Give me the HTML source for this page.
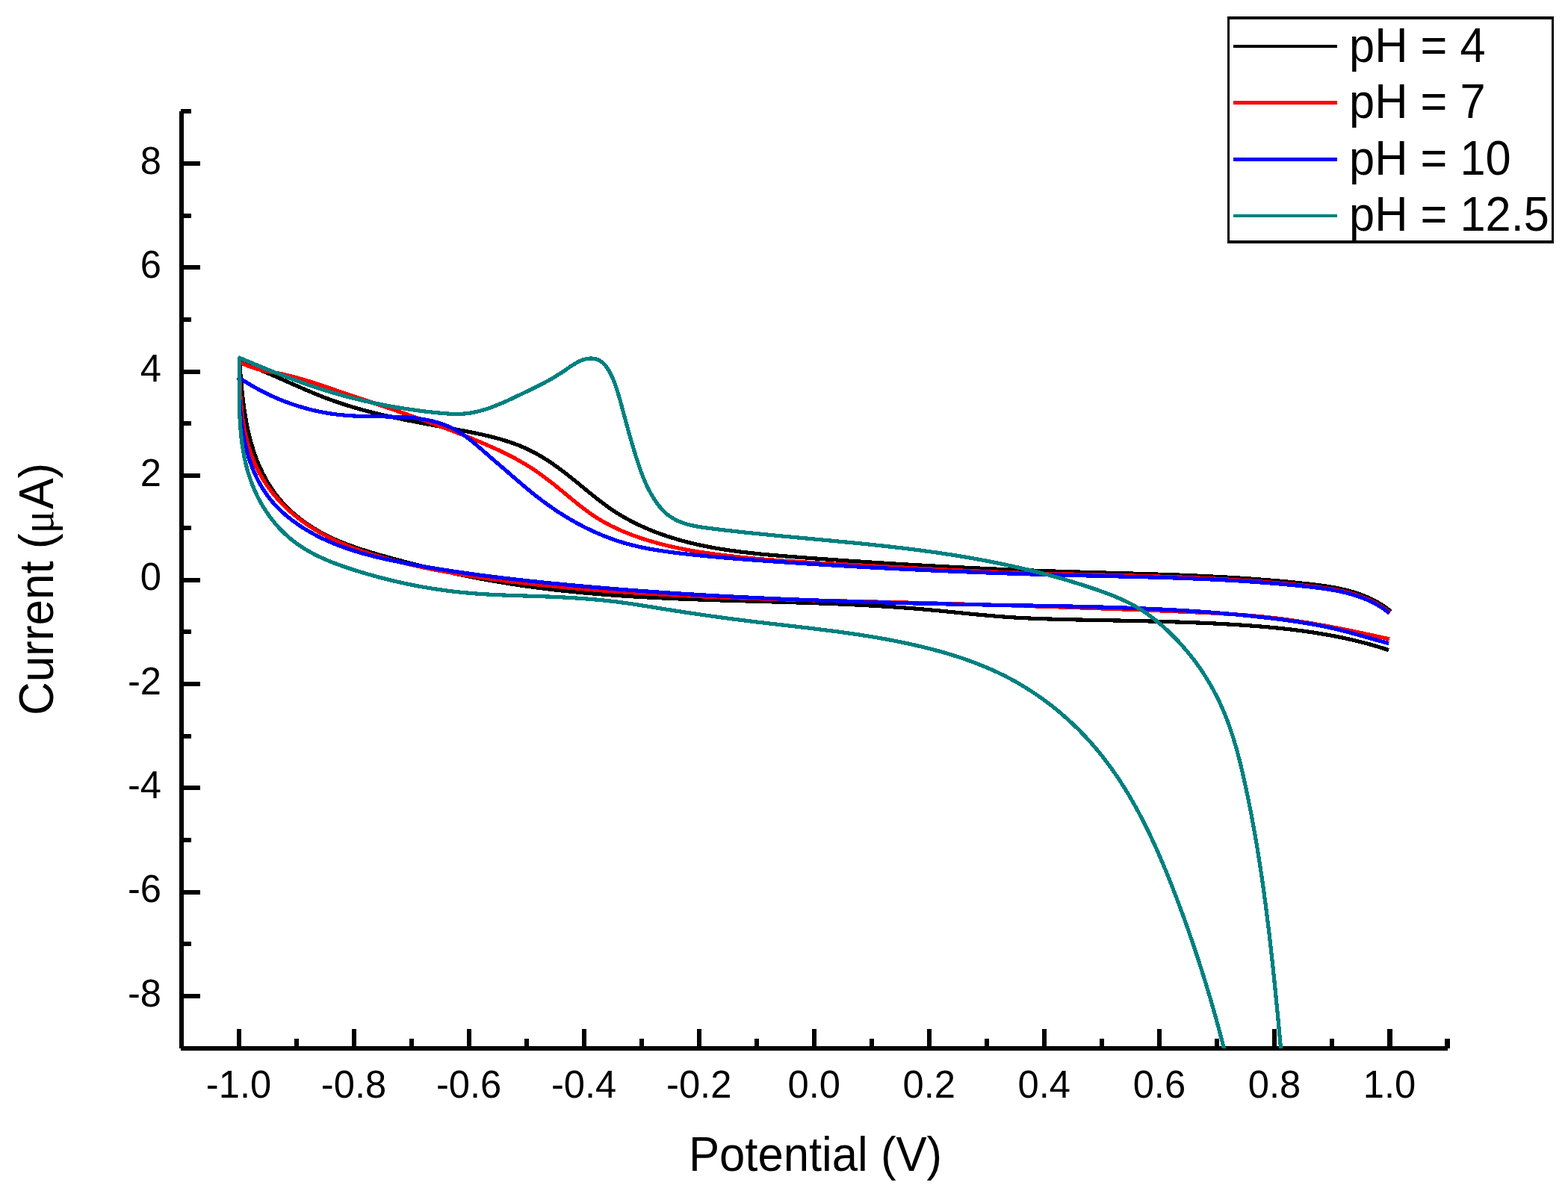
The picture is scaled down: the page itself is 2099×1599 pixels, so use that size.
<!DOCTYPE html>
<html lang="en"><head><meta charset="utf-8"><title>Cyclic voltammogram</title>
<style>
html,body{margin:0;padding:0;background:#fff;}
body{width:2099px;height:1599px;overflow:hidden;}
svg{display:block;}
text{font-family:"Liberation Sans",sans-serif;fill:#000;}
.tick{font-size:52px;}
.ttl{font-size:62px;}
.leg{font-size:62px;}
.ax{fill:#000;shape-rendering:crispEdges;}
.cv{fill:none;stroke-linejoin:miter;stroke-miterlimit:1.5;stroke-linecap:butt;shape-rendering:crispEdges;}
</style></head><body>
<svg width="2099" height="1599" viewBox="0 0 2099 1599">
<rect width="2099" height="1599" fill="#fff"/>
<defs><clipPath id="plot"><rect x="240" y="146" width="1700" height="1258"/></clipPath></defs>
<g><rect class="ax" x="240" y="149" width="6" height="1255"/><rect class="ax" x="242" y="1401" width="1696" height="6"/><rect class="ax" x="242" y="146" width="14" height="6"/><rect class="ax" x="317" y="1378" width="6" height="24"/><rect class="ax" x="394" y="1391" width="6" height="12"/><rect class="ax" x="471" y="1378" width="6" height="24"/><rect class="ax" x="548" y="1391" width="6" height="12"/><rect class="ax" x="625" y="1378" width="6" height="24"/><rect class="ax" x="702" y="1391" width="6" height="12"/><rect class="ax" x="779" y="1378" width="6" height="24"/><rect class="ax" x="856" y="1391" width="6" height="12"/><rect class="ax" x="933" y="1378" width="6" height="24"/><rect class="ax" x="1010" y="1391" width="6" height="12"/><rect class="ax" x="1087" y="1378" width="6" height="24"/><rect class="ax" x="1164" y="1391" width="6" height="12"/><rect class="ax" x="1241" y="1378" width="6" height="24"/><rect class="ax" x="1318" y="1391" width="6" height="12"/><rect class="ax" x="1395" y="1378" width="6" height="24"/><rect class="ax" x="1472" y="1391" width="6" height="12"/><rect class="ax" x="1549" y="1378" width="6" height="24"/><rect class="ax" x="1626" y="1391" width="6" height="12"/><rect class="ax" x="1703" y="1378" width="6" height="24"/><rect class="ax" x="1780" y="1391" width="6" height="12"/><rect class="ax" x="1857" y="1378" width="7" height="24"/><rect class="ax" x="1934" y="1391" width="7" height="13"/><rect class="ax" x="245" y="1331" width="23" height="6"/><rect class="ax" x="245" y="1261" width="11" height="6"/><rect class="ax" x="245" y="1192" width="23" height="6"/><rect class="ax" x="245" y="1122" width="11" height="6"/><rect class="ax" x="245" y="1052" width="23" height="6"/><rect class="ax" x="245" y="983" width="11" height="6"/><rect class="ax" x="245" y="913" width="23" height="6"/><rect class="ax" x="245" y="843" width="11" height="6"/><rect class="ax" x="245" y="774" width="23" height="6"/><rect class="ax" x="245" y="704" width="11" height="6"/><rect class="ax" x="245" y="634" width="23" height="6"/><rect class="ax" x="245" y="564" width="11" height="6"/><rect class="ax" x="245" y="495" width="23" height="6"/><rect class="ax" x="245" y="425" width="11" height="6"/><rect class="ax" x="245" y="355" width="23" height="6"/><rect class="ax" x="245" y="286" width="11" height="6"/><rect class="ax" x="245" y="216" width="23" height="6"/></g>
<g><text class="tick" transform="translate(319.5 1470) scale(0.975 1)" text-anchor="middle">-1.0</text><text class="tick" transform="translate(473.5 1470) scale(0.975 1)" text-anchor="middle">-0.8</text><text class="tick" transform="translate(627.6 1470) scale(0.975 1)" text-anchor="middle">-0.6</text><text class="tick" transform="translate(781.6 1470) scale(0.975 1)" text-anchor="middle">-0.4</text><text class="tick" transform="translate(935.7 1470) scale(0.975 1)" text-anchor="middle">-0.2</text><text class="tick" transform="translate(1089.8 1470) scale(0.975 1)" text-anchor="middle">0.0</text><text class="tick" transform="translate(1243.8 1470) scale(0.975 1)" text-anchor="middle">0.2</text><text class="tick" transform="translate(1397.8 1470) scale(0.975 1)" text-anchor="middle">0.4</text><text class="tick" transform="translate(1551.9 1470) scale(0.975 1)" text-anchor="middle">0.6</text><text class="tick" transform="translate(1706.0 1470) scale(0.975 1)" text-anchor="middle">0.8</text><text class="tick" transform="translate(1860.0 1470) scale(0.975 1)" text-anchor="middle">1.0</text><text class="tick" transform="translate(216 1347.7) scale(0.975 1)" text-anchor="end">-8</text><text class="tick" transform="translate(216 1208.3) scale(0.975 1)" text-anchor="end">-6</text><text class="tick" transform="translate(216 1069.0) scale(0.975 1)" text-anchor="end">-4</text><text class="tick" transform="translate(216 929.6) scale(0.975 1)" text-anchor="end">-2</text><text class="tick" transform="translate(216 790.2) scale(0.975 1)" text-anchor="end">0</text><text class="tick" transform="translate(216 650.8) scale(0.975 1)" text-anchor="end">2</text><text class="tick" transform="translate(216 511.4) scale(0.975 1)" text-anchor="end">4</text><text class="tick" transform="translate(216 372.1) scale(0.975 1)" text-anchor="end">6</text><text class="tick" transform="translate(216 232.7) scale(0.975 1)" text-anchor="end">8</text></g>
<text class="ttl" transform="translate(1091.5 1568) scale(0.994 1.04)" text-anchor="middle">Potential (V)</text>
<text class="ttl" transform="translate(71 788.9) rotate(-90) scale(1 1.04)" text-anchor="middle">Current<tspan dx="-1"> (</tspan><tspan font-family="'Liberation Serif',serif" font-size="58px">μ</tspan><tspan dx="1.5">A)</tspan></text>
<g clip-path="url(#plot)"><path class="cv" stroke="#000000" stroke-width="5.2" d="M1861.9 818.9C1860.80 818.03 1857.56 815.43 1855.34 813.83C1853.13 812.24 1850.88 810.73 1848.60 809.30C1846.32 807.87 1844.01 806.53 1841.67 805.25C1839.34 803.97 1836.97 802.78 1834.58 801.64C1832.19 800.51 1829.77 799.45 1827.33 798.45C1824.90 797.44 1822.43 796.51 1819.95 795.62C1817.47 794.74 1814.96 793.92 1812.44 793.15C1809.92 792.38 1807.37 791.66 1804.81 790.99C1802.26 790.31 1799.68 789.69 1797.09 789.10C1794.50 788.51 1791.90 787.97 1789.29 787.46C1786.67 786.95 1784.04 786.48 1781.41 786.03C1778.77 785.58 1776.12 785.17 1773.47 784.78C1770.82 784.39 1768.16 784.02 1765.49 783.67C1762.83 783.32 1760.15 783.00 1757.48 782.68C1754.81 782.36 1752.13 782.06 1749.45 781.77C1746.77 781.47 1744.10 781.18 1741.42 780.90C1738.74 780.62 1736.06 780.35 1733.38 780.08C1730.71 779.81 1728.03 779.55 1725.35 779.29C1722.67 779.03 1719.99 778.78 1717.31 778.54C1714.63 778.29 1711.95 778.06 1709.28 777.82C1706.60 777.59 1703.92 777.36 1701.24 777.14C1698.56 776.92 1695.88 776.70 1693.20 776.49C1690.52 776.28 1687.84 776.08 1685.16 775.87C1682.48 775.67 1679.80 775.48 1677.12 775.29C1674.44 775.10 1671.76 774.91 1669.08 774.73C1666.40 774.55 1663.72 774.37 1661.04 774.20C1658.36 774.03 1655.68 773.86 1653.00 773.70C1650.32 773.54 1647.64 773.38 1644.96 773.22C1642.28 773.07 1639.60 772.92 1636.92 772.77C1634.24 772.62 1631.56 772.48 1628.88 772.34C1626.20 772.20 1623.52 772.06 1620.84 771.93C1618.16 771.80 1615.47 771.67 1612.79 771.55C1610.11 771.42 1607.43 771.30 1604.75 771.18C1602.07 771.06 1599.39 770.94 1596.71 770.83C1594.03 770.72 1591.35 770.61 1588.67 770.50C1585.99 770.39 1583.31 770.28 1580.63 770.18C1577.95 770.08 1575.27 769.98 1572.59 769.88C1569.91 769.78 1567.23 769.69 1564.55 769.59C1561.87 769.50 1559.19 769.41 1556.51 769.32C1553.83 769.23 1551.15 769.14 1548.47 769.05C1545.79 768.97 1543.11 768.88 1540.43 768.80C1537.75 768.71 1535.07 768.63 1532.39 768.55C1529.71 768.47 1527.03 768.39 1524.35 768.31C1521.67 768.23 1519.00 768.16 1516.32 768.08C1513.64 768.00 1510.96 767.93 1508.28 767.85C1505.60 767.78 1502.92 767.70 1500.25 767.63C1497.57 767.55 1494.89 767.48 1492.21 767.41C1489.53 767.33 1486.86 767.26 1484.18 767.19C1481.50 767.11 1478.82 767.04 1476.15 766.97C1473.47 766.89 1470.79 766.82 1468.12 766.75C1465.44 766.67 1462.76 766.60 1460.09 766.52C1457.41 766.45 1454.73 766.37 1452.06 766.30C1449.38 766.22 1446.71 766.14 1444.03 766.06C1441.35 765.99 1438.68 765.91 1436.00 765.83C1433.33 765.75 1430.65 765.66 1427.98 765.58C1425.31 765.50 1422.63 765.41 1419.96 765.33C1417.28 765.24 1414.61 765.15 1411.94 765.07C1409.26 764.98 1406.59 764.89 1403.92 764.80C1401.24 764.70 1398.57 764.61 1395.90 764.52C1393.22 764.42 1390.55 764.33 1387.88 764.23C1385.21 764.13 1382.53 764.04 1379.86 763.94C1377.19 763.84 1374.52 763.74 1371.85 763.63C1369.17 763.53 1366.50 763.43 1363.83 763.32C1361.16 763.22 1358.49 763.11 1355.82 763.00C1353.14 762.89 1350.47 762.78 1347.80 762.67C1345.13 762.56 1342.46 762.45 1339.79 762.34C1337.12 762.22 1334.45 762.11 1331.78 761.99C1329.10 761.88 1326.43 761.76 1323.76 761.64C1321.09 761.52 1318.42 761.40 1315.75 761.28C1313.08 761.16 1310.41 761.04 1307.74 760.91C1305.07 760.79 1302.40 760.66 1299.73 760.53C1297.05 760.41 1294.38 760.28 1291.71 760.15C1289.04 760.02 1286.37 759.89 1283.70 759.76C1281.03 759.62 1278.36 759.49 1275.69 759.35C1273.02 759.22 1270.34 759.08 1267.67 758.94C1265.00 758.81 1262.33 758.67 1259.66 758.53C1256.99 758.39 1254.32 758.24 1251.64 758.10C1248.97 757.96 1246.30 757.81 1243.63 757.67C1240.96 757.52 1238.28 757.37 1235.61 757.22C1232.94 757.08 1230.27 756.93 1227.59 756.77C1224.92 756.62 1222.25 756.47 1219.58 756.32C1216.90 756.16 1214.23 756.01 1211.56 755.85C1208.88 755.69 1206.21 755.54 1203.54 755.38C1200.86 755.22 1198.19 755.06 1195.51 754.89C1192.84 754.73 1190.16 754.57 1187.49 754.40C1184.82 754.24 1182.14 754.07 1179.46 753.91C1176.79 753.74 1174.11 753.57 1171.44 753.40C1168.76 753.23 1166.09 753.06 1163.41 752.89C1160.73 752.71 1158.06 752.54 1155.38 752.36C1152.70 752.19 1150.02 752.01 1147.35 751.83C1144.67 751.66 1141.99 751.48 1139.31 751.30C1136.63 751.12 1133.95 750.93 1131.27 750.75C1128.60 750.57 1125.92 750.38 1123.24 750.20C1120.56 750.01 1117.87 749.82 1115.19 749.63C1112.51 749.45 1109.83 749.26 1107.15 749.07C1104.47 748.87 1101.79 748.68 1099.10 748.49C1096.42 748.29 1093.74 748.10 1091.05 747.90C1088.37 747.71 1085.69 747.51 1083.00 747.31C1080.32 747.11 1077.63 746.91 1074.95 746.71C1072.26 746.51 1069.58 746.31 1066.89 746.10C1064.20 745.90 1061.51 745.69 1058.83 745.48C1056.14 745.27 1053.45 745.07 1050.77 744.85C1048.08 744.64 1045.39 744.42 1042.71 744.20C1040.02 743.97 1037.33 743.75 1034.65 743.51C1031.96 743.28 1029.28 743.04 1026.60 742.79C1023.92 742.55 1021.24 742.29 1018.56 742.03C1015.88 741.77 1013.20 741.50 1010.53 741.21C1007.85 740.93 1005.18 740.64 1002.51 740.34C999.84 740.04 997.17 739.73 994.50 739.41C991.84 739.08 989.18 738.75 986.52 738.40C983.86 738.05 981.20 737.68 978.55 737.31C975.90 736.93 973.25 736.54 970.61 736.13C967.96 735.72 965.32 735.30 962.69 734.86C960.05 734.42 957.42 733.97 954.79 733.49C952.17 733.02 949.54 732.53 946.93 732.01C944.31 731.50 941.70 730.97 939.09 730.42C936.49 729.87 933.89 729.30 931.29 728.70C928.70 728.11 926.11 727.50 923.53 726.86C920.95 726.22 918.37 725.56 915.80 724.88C913.24 724.19 910.67 723.48 908.12 722.75C905.56 722.02 903.02 721.26 900.48 720.47C897.94 719.69 895.40 718.88 892.88 718.04C890.35 717.20 887.84 716.33 885.33 715.44C882.82 714.54 880.32 713.62 877.82 712.66C875.33 711.71 872.85 710.72 870.38 709.71C867.90 708.69 865.44 707.65 862.99 706.57C860.54 705.49 858.10 704.38 855.68 703.24C853.25 702.10 850.84 700.93 848.45 699.72C846.06 698.51 843.68 697.27 841.32 695.99C838.96 694.72 836.62 693.41 834.30 692.06C831.98 690.72 829.68 689.34 827.40 687.92C825.12 686.51 822.87 685.06 820.64 683.57C818.40 682.08 816.20 680.55 814.01 679.00C811.82 677.45 809.65 675.86 807.50 674.25C805.34 672.65 803.21 671.01 801.09 669.36C798.96 667.71 796.85 666.03 794.75 664.35C792.64 662.67 790.55 660.97 788.46 659.26C786.37 657.56 784.29 655.84 782.21 654.13C780.13 652.41 778.05 650.69 775.97 648.98C773.88 647.27 771.80 645.56 769.71 643.86C767.62 642.16 765.52 640.47 763.42 638.79C761.31 637.12 759.20 635.45 757.07 633.81C754.95 632.17 752.81 630.55 750.66 628.95C748.51 627.35 746.35 625.77 744.18 624.22C742.00 622.67 739.81 621.14 737.61 619.65C735.40 618.16 733.18 616.70 730.94 615.27C728.70 613.85 726.44 612.46 724.16 611.10C721.89 609.75 719.59 608.44 717.27 607.17C714.96 605.90 712.62 604.67 710.26 603.50C707.89 602.32 705.51 601.19 703.10 600.11C700.69 599.02 698.26 597.99 695.81 597.00C693.36 596.01 690.89 595.06 688.40 594.15C685.91 593.24 683.40 592.38 680.87 591.54C678.35 590.71 675.81 589.92 673.25 589.15C670.70 588.39 668.12 587.66 665.54 586.95C662.96 586.25 660.36 585.57 657.76 584.92C655.15 584.27 652.54 583.65 649.91 583.04C647.29 582.43 644.66 581.85 642.02 581.28C639.38 580.71 636.73 580.16 634.09 579.62C631.44 579.08 628.78 578.56 626.13 578.04C623.47 577.52 620.82 577.02 618.16 576.52C615.50 576.01 612.85 575.52 610.19 575.02C607.53 574.53 604.88 574.04 602.23 573.55C599.57 573.06 596.92 572.57 594.27 572.08C591.62 571.60 588.97 571.11 586.33 570.62C583.68 570.14 581.03 569.65 578.39 569.16C575.75 568.67 573.11 568.18 570.47 567.68C567.83 567.19 565.19 566.69 562.56 566.19C559.92 565.69 557.29 565.18 554.66 564.67C552.03 564.16 549.40 563.64 546.78 563.12C544.15 562.59 541.53 562.07 538.91 561.53C536.30 560.99 533.68 560.44 531.07 559.89C528.46 559.33 525.85 558.77 523.24 558.20C520.63 557.62 518.03 557.04 515.43 556.44C512.83 555.85 510.24 555.24 507.65 554.62C505.06 554.00 502.47 553.37 499.88 552.72C497.30 552.08 494.72 551.42 492.15 550.74C489.57 550.07 487.00 549.38 484.43 548.67C481.87 547.97 479.30 547.25 476.75 546.51C474.19 545.77 471.63 545.01 469.09 544.24C466.54 543.46 464.00 542.67 461.46 541.86C458.92 541.04 456.39 540.21 453.86 539.36C451.33 538.50 448.81 537.63 446.29 536.73C443.77 535.83 441.26 534.91 438.75 533.97C436.25 533.03 433.75 532.07 431.25 531.09C428.75 530.11 426.26 529.11 423.77 528.10C421.29 527.09 418.80 526.06 416.32 525.02C413.84 523.98 411.36 522.92 408.89 521.86C406.42 520.80 403.94 519.72 401.47 518.64C399.01 517.57 396.54 516.48 394.07 515.39C391.61 514.30 389.14 513.20 386.68 512.11C384.22 511.01 381.76 509.92 379.29 508.82C376.83 507.73 374.37 506.63 371.91 505.55C369.45 504.46 366.99 503.37 364.52 502.30C362.06 501.22 359.60 500.15 357.13 499.10C354.67 498.04 352.20 496.99 349.73 495.95C347.26 494.92 344.79 493.90 342.32 492.89C339.85 491.89 337.37 490.89 334.89 489.92C332.41 488.95 329.93 488.00 327.45 487.07C324.96 486.14 321.22 484.80 319.97 484.34L320.6 484.3C320.70 485.52 320.99 489.30 321.20 491.85C321.40 494.40 321.60 496.97 321.82 499.56C322.03 502.14 322.24 504.74 322.47 507.36C322.69 509.97 322.92 512.60 323.17 515.24C323.41 517.88 323.66 520.53 323.94 523.18C324.21 525.84 324.49 528.51 324.79 531.18C325.09 533.85 325.41 536.53 325.75 539.21C326.09 541.89 326.44 544.58 326.83 547.26C327.21 549.94 327.61 552.63 328.04 555.31C328.47 558.00 328.93 560.68 329.42 563.36C329.90 566.03 330.42 568.71 330.96 571.37C331.51 574.04 332.09 576.70 332.70 579.35C333.31 582.00 333.96 584.64 334.65 587.27C335.33 589.90 336.05 592.51 336.81 595.12C337.57 597.72 338.36 600.30 339.20 602.87C340.03 605.44 340.90 607.99 341.82 610.52C342.73 613.05 343.69 615.57 344.68 618.05C345.68 620.54 346.72 623.01 347.80 625.45C348.88 627.88 350.00 630.30 351.17 632.68C352.34 635.07 353.55 637.43 354.81 639.75C356.07 642.08 357.37 644.37 358.72 646.63C360.07 648.89 361.47 651.12 362.92 653.31C364.37 655.50 365.86 657.65 367.41 659.77C368.95 661.88 370.55 663.96 372.19 665.99C373.83 668.02 375.53 670.02 377.27 671.97C379.00 673.93 380.79 675.84 382.62 677.72C384.44 679.59 386.32 681.42 388.23 683.22C390.14 685.01 392.09 686.77 394.08 688.48C396.07 690.20 398.10 691.87 400.16 693.51C402.23 695.14 404.33 696.74 406.46 698.30C408.59 699.85 410.75 701.37 412.95 702.85C415.14 704.32 417.37 705.76 419.62 707.16C421.87 708.56 424.15 709.92 426.46 711.24C428.76 712.56 431.09 713.84 433.45 715.08C435.80 716.32 438.17 717.52 440.57 718.69C442.96 719.85 445.38 720.97 447.81 722.07C450.24 723.16 452.70 724.21 455.16 725.24C457.63 726.27 460.11 727.26 462.61 728.23C465.11 729.19 467.62 730.13 470.14 731.04C472.66 731.96 475.20 732.84 477.74 733.71C480.29 734.58 482.84 735.42 485.41 736.24C487.97 737.07 490.54 737.87 493.12 738.67C495.69 739.46 498.28 740.23 500.86 740.99C503.45 741.76 506.04 742.50 508.63 743.25C511.22 743.99 513.82 744.72 516.41 745.44C519.00 746.17 521.60 746.88 524.19 747.59C526.79 748.30 529.38 749.01 531.98 749.70C534.57 750.40 537.17 751.09 539.77 751.77C542.36 752.45 544.96 753.12 547.56 753.79C550.16 754.46 552.75 755.12 555.35 755.77C557.95 756.42 560.55 757.07 563.15 757.71C565.75 758.34 568.35 758.97 570.95 759.60C573.55 760.22 576.15 760.84 578.76 761.45C581.36 762.06 583.96 762.66 586.56 763.25C589.17 763.85 591.77 764.44 594.38 765.02C596.98 765.60 599.59 766.17 602.19 766.73C604.80 767.30 607.41 767.86 610.02 768.41C612.63 768.96 615.23 769.50 617.84 770.04C620.45 770.57 623.06 771.10 625.68 771.62C628.29 772.14 630.90 772.66 633.51 773.16C636.13 773.67 638.74 774.17 641.36 774.66C643.97 775.15 646.59 775.64 649.20 776.11C651.82 776.59 654.44 777.06 657.06 777.52C659.68 777.98 662.30 778.44 664.92 778.88C667.54 779.33 670.16 779.77 672.79 780.20C675.41 780.63 678.03 781.06 680.66 781.48C683.29 781.89 685.91 782.30 688.54 782.70C691.17 783.11 693.80 783.50 696.43 783.89C699.06 784.27 701.69 784.65 704.32 785.02C706.95 785.40 709.59 785.76 712.22 786.12C714.86 786.47 717.50 786.82 720.13 787.17C722.77 787.51 725.41 787.84 728.05 788.17C730.69 788.50 733.33 788.82 735.97 789.13C738.61 789.45 741.26 789.75 743.90 790.06C746.54 790.36 749.19 790.65 751.84 790.94C754.48 791.23 757.13 791.51 759.78 791.78C762.42 792.06 765.07 792.33 767.72 792.59C770.37 792.85 773.02 793.11 775.68 793.36C778.33 793.61 780.98 793.85 783.63 794.09C786.29 794.33 788.94 794.57 791.60 794.80C794.25 795.02 796.91 795.25 799.56 795.46C802.22 795.68 804.88 795.89 807.53 796.10C810.19 796.31 812.85 796.51 815.51 796.71C818.17 796.91 820.83 797.10 823.49 797.29C826.15 797.47 828.81 797.66 831.47 797.84C834.13 798.01 836.80 798.19 839.46 798.36C842.12 798.53 844.78 798.69 847.45 798.85C850.11 799.02 852.77 799.17 855.44 799.33C858.10 799.48 860.77 799.63 863.43 799.78C866.10 799.92 868.77 800.06 871.43 800.20C874.10 800.34 876.76 800.48 879.43 800.61C882.10 800.74 884.76 800.87 887.43 800.99C890.10 801.12 892.77 801.24 895.43 801.36C898.10 801.48 900.77 801.60 903.44 801.71C906.11 801.82 908.78 801.94 911.44 802.04C914.11 802.15 916.78 802.26 919.45 802.36C922.12 802.46 924.79 802.57 927.46 802.66C930.12 802.76 932.79 802.86 935.46 802.96C938.13 803.05 940.80 803.14 943.47 803.23C946.14 803.33 948.81 803.41 951.48 803.50C954.14 803.59 956.81 803.68 959.48 803.76C962.15 803.85 964.82 803.93 967.49 804.01C970.16 804.09 972.82 804.17 975.49 804.25C978.16 804.33 980.83 804.41 983.49 804.49C986.16 804.57 988.83 804.65 991.50 804.72C994.16 804.80 996.83 804.88 999.50 804.95C1002.17 805.03 1004.83 805.11 1007.50 805.18C1010.16 805.26 1012.83 805.33 1015.50 805.41C1018.16 805.48 1020.83 805.56 1023.49 805.63C1026.16 805.71 1028.83 805.78 1031.49 805.86C1034.16 805.94 1036.82 806.01 1039.49 806.09C1042.15 806.17 1044.82 806.24 1047.48 806.32C1050.15 806.40 1052.81 806.48 1055.48 806.56C1058.14 806.64 1060.80 806.72 1063.47 806.81C1066.13 806.89 1068.80 806.97 1071.46 807.06C1074.12 807.15 1076.79 807.23 1079.45 807.32C1082.11 807.41 1084.78 807.50 1087.44 807.59C1090.10 807.69 1092.76 807.78 1095.43 807.88C1098.09 807.97 1100.75 808.07 1103.41 808.17C1106.08 808.27 1108.74 808.37 1111.40 808.48C1114.06 808.58 1116.72 808.69 1119.39 808.80C1122.05 808.91 1124.71 809.03 1127.37 809.14C1130.03 809.26 1132.69 809.38 1135.35 809.50C1138.01 809.62 1140.68 809.75 1143.34 809.88C1146.00 810.00 1148.66 810.14 1151.32 810.27C1153.98 810.41 1156.64 810.54 1159.30 810.69C1161.96 810.83 1164.62 810.98 1167.28 811.13C1169.94 811.28 1172.60 811.43 1175.26 811.59C1177.91 811.75 1180.57 811.91 1183.23 812.07C1185.89 812.24 1188.55 812.41 1191.21 812.59C1193.87 812.76 1196.53 812.94 1199.18 813.13C1201.84 813.31 1204.50 813.50 1207.16 813.69C1209.82 813.89 1212.48 814.09 1215.13 814.29C1217.79 814.49 1220.45 814.70 1223.11 814.92C1225.76 815.13 1228.42 815.35 1231.08 815.58C1233.73 815.80 1236.39 816.04 1239.05 816.27C1241.71 816.51 1244.36 816.75 1247.02 817.00C1249.67 817.24 1252.33 817.50 1254.99 817.75C1257.64 818.01 1260.30 818.26 1262.96 818.52C1265.61 818.78 1268.27 819.05 1270.92 819.31C1273.58 819.58 1276.24 819.84 1278.89 820.11C1281.55 820.37 1284.21 820.64 1286.86 820.90C1289.52 821.17 1292.17 821.43 1294.83 821.69C1297.49 821.95 1300.14 822.21 1302.80 822.47C1305.46 822.72 1308.11 822.98 1310.77 823.23C1313.43 823.47 1316.09 823.72 1318.74 823.96C1321.40 824.20 1324.06 824.43 1326.72 824.66C1329.37 824.88 1332.03 825.11 1334.69 825.32C1337.35 825.53 1340.01 825.74 1342.67 825.94C1345.33 826.13 1347.98 826.32 1350.64 826.50C1353.30 826.68 1355.96 826.85 1358.62 827.01C1361.28 827.17 1363.95 827.32 1366.61 827.46C1369.27 827.60 1371.93 827.73 1374.59 827.86C1377.25 827.99 1379.91 828.10 1382.58 828.21C1385.24 828.33 1387.90 828.43 1390.57 828.53C1393.23 828.63 1395.89 828.72 1398.56 828.81C1401.22 828.90 1403.88 828.98 1406.55 829.06C1409.21 829.14 1411.88 829.21 1414.54 829.29C1417.20 829.36 1419.87 829.43 1422.53 829.49C1425.20 829.56 1427.87 829.62 1430.53 829.68C1433.20 829.75 1435.86 829.81 1438.53 829.87C1441.19 829.93 1443.86 829.98 1446.53 830.04C1449.19 830.10 1451.86 830.15 1454.53 830.21C1457.19 830.26 1459.86 830.32 1462.53 830.37C1465.19 830.42 1467.86 830.48 1470.53 830.53C1473.20 830.58 1475.86 830.63 1478.53 830.69C1481.20 830.74 1483.87 830.79 1486.53 830.84C1489.20 830.90 1491.87 830.95 1494.54 831.00C1497.20 831.05 1499.87 831.11 1502.54 831.16C1505.21 831.21 1507.88 831.27 1510.54 831.32C1513.21 831.38 1515.88 831.43 1518.55 831.49C1521.22 831.55 1523.88 831.61 1526.55 831.67C1529.22 831.73 1531.89 831.79 1534.55 831.85C1537.22 831.91 1539.89 831.98 1542.56 832.04C1545.22 832.11 1547.89 832.18 1550.56 832.25C1553.23 832.32 1555.89 832.39 1558.56 832.47C1561.23 832.54 1563.89 832.62 1566.56 832.70C1569.23 832.78 1571.90 832.86 1574.56 832.95C1577.23 833.03 1579.89 833.12 1582.56 833.21C1585.23 833.31 1587.89 833.40 1590.56 833.50C1593.22 833.60 1595.89 833.70 1598.55 833.80C1601.22 833.91 1603.89 834.02 1606.55 834.13C1609.21 834.24 1611.88 834.36 1614.54 834.48C1617.21 834.60 1619.87 834.73 1622.54 834.85C1625.20 834.98 1627.86 835.12 1630.53 835.26C1633.19 835.39 1635.85 835.54 1638.51 835.69C1641.18 835.83 1643.84 835.99 1646.50 836.14C1649.16 836.30 1651.82 836.47 1654.48 836.63C1657.14 836.80 1659.80 836.98 1662.46 837.16C1665.12 837.34 1667.78 837.52 1670.44 837.71C1673.10 837.90 1675.76 838.10 1678.42 838.30C1681.08 838.51 1683.73 838.72 1686.39 838.94C1689.05 839.15 1691.70 839.38 1694.36 839.61C1697.02 839.84 1699.67 840.08 1702.32 840.33C1704.98 840.58 1707.63 840.84 1710.28 841.10C1712.93 841.37 1715.58 841.64 1718.23 841.93C1720.88 842.21 1723.53 842.51 1726.17 842.81C1728.82 843.12 1731.46 843.43 1734.11 843.76C1736.75 844.09 1739.39 844.43 1742.03 844.77C1744.67 845.12 1747.31 845.49 1749.94 845.86C1752.58 846.23 1755.21 846.62 1757.84 847.02C1760.48 847.42 1763.11 847.83 1765.73 848.26C1768.36 848.68 1770.99 849.12 1773.61 849.58C1776.23 850.03 1778.85 850.50 1781.47 850.98C1784.09 851.47 1786.71 851.97 1789.32 852.48C1791.93 852.99 1794.54 853.52 1797.15 854.07C1799.76 854.62 1802.36 855.18 1804.96 855.76C1807.56 856.34 1810.16 856.94 1812.76 857.55C1815.35 858.17 1817.95 858.80 1820.54 859.45C1823.13 860.10 1825.71 860.77 1828.29 861.45C1830.88 862.14 1833.46 862.85 1836.03 863.58C1838.61 864.30 1841.18 865.05 1843.75 865.81C1846.32 866.58 1848.88 867.37 1851.44 868.17C1854.00 868.98 1857.84 870.25 1859.11 870.66"/><path class="cv" stroke="#ff0000" stroke-width="5.2" d="M1860.5 820.4C1859.44 819.58 1856.16 817.02 1853.92 815.45C1851.68 813.89 1849.40 812.41 1847.10 811.01C1844.80 809.61 1842.47 808.30 1840.11 807.05C1837.75 805.81 1835.37 804.64 1832.96 803.54C1830.55 802.43 1828.11 801.40 1825.65 800.43C1823.20 799.45 1820.72 798.55 1818.22 797.70C1815.72 796.84 1813.20 796.05 1810.66 795.30C1808.12 794.56 1805.56 793.87 1802.99 793.22C1800.42 792.57 1797.83 791.97 1795.23 791.41C1792.63 790.84 1790.02 790.33 1787.39 789.84C1784.77 789.35 1782.13 788.90 1779.48 788.47C1776.84 788.04 1774.18 787.65 1771.52 787.28C1768.86 786.90 1766.20 786.55 1763.53 786.22C1760.86 785.89 1758.18 785.57 1755.50 785.27C1752.82 784.96 1750.14 784.67 1747.47 784.38C1744.79 784.10 1742.11 783.82 1739.43 783.54C1736.75 783.27 1734.07 783.00 1731.39 782.74C1728.71 782.48 1726.04 782.22 1723.36 781.97C1720.68 781.72 1718.00 781.47 1715.32 781.23C1712.65 781.00 1709.97 780.76 1707.29 780.53C1704.62 780.31 1701.94 780.08 1699.26 779.86C1696.58 779.65 1693.91 779.43 1691.23 779.23C1688.55 779.02 1685.88 778.82 1683.20 778.62C1680.52 778.42 1677.85 778.23 1675.17 778.04C1672.50 777.85 1669.82 777.67 1667.14 777.49C1664.47 777.31 1661.79 777.14 1659.12 776.97C1656.44 776.80 1653.77 776.63 1651.09 776.47C1648.42 776.31 1645.74 776.15 1643.06 776.00C1640.39 775.84 1637.71 775.70 1635.04 775.55C1632.36 775.40 1629.69 775.26 1627.02 775.12C1624.34 774.99 1621.67 774.85 1618.99 774.72C1616.32 774.59 1613.64 774.46 1610.97 774.34C1608.29 774.21 1605.62 774.09 1602.95 773.97C1600.27 773.86 1597.60 773.74 1594.92 773.63C1592.25 773.52 1589.58 773.41 1586.90 773.30C1584.23 773.20 1581.55 773.09 1578.88 772.99C1576.21 772.89 1573.53 772.79 1570.86 772.70C1568.19 772.60 1565.51 772.51 1562.84 772.42C1560.16 772.33 1557.49 772.24 1554.82 772.15C1552.14 772.06 1549.47 771.98 1546.80 771.90C1544.12 771.81 1541.45 771.73 1538.78 771.65C1536.10 771.57 1533.43 771.50 1530.76 771.42C1528.08 771.34 1525.41 771.27 1522.74 771.20C1520.06 771.12 1517.39 771.05 1514.72 770.98C1512.05 770.91 1509.37 770.84 1506.70 770.77C1504.03 770.71 1501.35 770.64 1498.68 770.57C1496.01 770.51 1493.33 770.44 1490.66 770.37C1487.99 770.31 1485.31 770.25 1482.64 770.18C1479.97 770.12 1477.29 770.05 1474.62 769.99C1471.95 769.93 1469.27 769.87 1466.60 769.80C1463.93 769.74 1461.25 769.68 1458.58 769.62C1455.91 769.55 1453.23 769.49 1450.56 769.43C1447.89 769.37 1445.21 769.30 1442.54 769.24C1439.86 769.18 1437.19 769.11 1434.52 769.05C1431.84 768.98 1429.17 768.92 1426.50 768.85C1423.82 768.79 1421.15 768.72 1418.47 768.66C1415.80 768.59 1413.13 768.52 1410.45 768.45C1407.78 768.38 1405.10 768.31 1402.43 768.24C1399.75 768.17 1397.08 768.10 1394.40 768.02C1391.73 767.95 1389.06 767.87 1386.38 767.80C1383.71 767.72 1381.03 767.64 1378.36 767.56C1375.68 767.48 1373.01 767.40 1370.33 767.31C1367.66 767.23 1364.98 767.14 1362.31 767.05C1359.63 766.97 1356.95 766.88 1354.28 766.78C1351.60 766.69 1348.93 766.59 1346.25 766.50C1343.58 766.40 1340.90 766.30 1338.22 766.20C1335.55 766.10 1332.87 765.99 1330.19 765.89C1327.52 765.78 1324.84 765.67 1322.17 765.56C1319.49 765.45 1316.81 765.34 1314.14 765.23C1311.46 765.11 1308.78 765.00 1306.11 764.88C1303.43 764.76 1300.75 764.65 1298.07 764.52C1295.40 764.40 1292.72 764.28 1290.04 764.16C1287.37 764.04 1284.69 763.91 1282.01 763.78C1279.33 763.66 1276.66 763.53 1273.98 763.40C1271.30 763.27 1268.63 763.14 1265.95 763.01C1263.27 762.88 1260.59 762.75 1257.92 762.61C1255.24 762.48 1252.56 762.34 1249.89 762.21C1247.21 762.07 1244.53 761.94 1241.85 761.80C1239.18 761.66 1236.50 761.52 1233.82 761.38C1231.14 761.24 1228.47 761.11 1225.79 760.96C1223.11 760.82 1220.44 760.68 1217.76 760.54C1215.08 760.40 1212.41 760.26 1209.73 760.12C1207.05 759.97 1204.37 759.83 1201.70 759.69C1199.02 759.55 1196.34 759.40 1193.67 759.26C1190.99 759.12 1188.31 758.97 1185.64 758.83C1182.96 758.68 1180.28 758.54 1177.61 758.40C1174.93 758.25 1172.26 758.11 1169.58 757.97C1166.90 757.82 1164.23 757.68 1161.55 757.54C1158.88 757.39 1156.20 757.25 1153.52 757.11C1150.85 756.97 1148.17 756.82 1145.50 756.68C1142.82 756.54 1140.15 756.40 1137.47 756.26C1134.80 756.12 1132.12 755.98 1129.45 755.84C1126.77 755.70 1124.10 755.56 1121.43 755.41C1118.75 755.27 1116.08 755.13 1113.40 754.99C1110.73 754.84 1108.06 754.70 1105.38 754.55C1102.71 754.41 1100.03 754.26 1097.36 754.11C1094.69 753.96 1092.02 753.81 1089.34 753.66C1086.67 753.50 1084.00 753.35 1081.33 753.19C1078.66 753.03 1075.98 752.87 1073.31 752.70C1070.64 752.54 1067.97 752.37 1065.30 752.20C1062.63 752.03 1059.96 751.85 1057.29 751.67C1054.62 751.50 1051.95 751.31 1049.28 751.12C1046.61 750.94 1043.94 750.74 1041.27 750.55C1038.60 750.35 1035.93 750.15 1033.27 749.94C1030.60 749.73 1027.93 749.52 1025.26 749.30C1022.60 749.08 1019.93 748.86 1017.26 748.63C1014.60 748.40 1011.93 748.16 1009.26 747.92C1006.60 747.67 1003.93 747.42 1001.27 747.16C998.60 746.91 995.94 746.64 993.28 746.37C990.61 746.10 987.95 745.82 985.29 745.53C982.62 745.24 979.96 744.95 977.30 744.65C974.64 744.34 971.98 744.03 969.31 743.71C966.65 743.39 963.99 743.06 961.34 742.72C958.68 742.38 956.02 742.03 953.36 741.66C950.71 741.30 948.05 740.93 945.40 740.54C942.75 740.15 940.10 739.75 937.45 739.33C934.81 738.92 932.16 738.49 929.52 738.04C926.88 737.59 924.24 737.13 921.61 736.65C918.98 736.17 916.35 735.68 913.72 735.16C911.09 734.65 908.47 734.11 905.86 733.56C903.24 733.00 900.63 732.43 898.02 731.83C895.42 731.24 892.82 730.62 890.22 729.98C887.63 729.34 885.04 728.68 882.46 727.99C879.88 727.31 877.30 726.60 874.73 725.86C872.17 725.12 869.60 724.36 867.05 723.57C864.50 722.78 861.95 721.97 859.41 721.12C856.87 720.28 854.34 719.41 851.82 718.51C849.30 717.61 846.79 716.68 844.28 715.71C841.78 714.75 839.28 713.76 836.80 712.73C834.32 711.71 831.84 710.65 829.38 709.56C826.92 708.46 824.47 707.34 822.05 706.17C819.62 705.01 817.21 703.81 814.83 702.57C812.45 701.33 810.08 700.05 807.75 698.73C805.42 697.40 803.11 696.04 800.83 694.63C798.56 693.23 796.32 691.77 794.10 690.28C791.89 688.80 789.71 687.26 787.54 685.71C785.38 684.15 783.24 682.55 781.12 680.94C778.99 679.32 776.89 677.68 774.80 676.02C772.70 674.36 770.63 672.67 768.56 670.99C766.48 669.30 764.42 667.59 762.36 665.88C760.30 664.18 758.24 662.46 756.18 660.75C754.12 659.04 752.06 657.33 749.99 655.63C747.91 653.93 745.84 652.23 743.75 650.55C741.66 648.87 739.56 647.20 737.44 645.56C735.32 643.91 733.20 642.28 731.05 640.67C728.91 639.06 726.75 637.46 724.58 635.90C722.41 634.33 720.22 632.79 718.01 631.27C715.80 629.76 713.58 628.27 711.34 626.81C709.10 625.36 706.84 623.93 704.56 622.53C702.28 621.14 699.98 619.78 697.66 618.44C695.34 617.11 693.01 615.81 690.66 614.53C688.31 613.25 685.95 612.00 683.57 610.77C681.19 609.54 678.80 608.34 676.40 607.16C674.00 605.97 671.58 604.81 669.16 603.67C666.74 602.53 664.30 601.41 661.86 600.30C659.42 599.19 656.97 598.10 654.51 597.02C652.06 595.94 649.59 594.88 647.13 593.82C644.66 592.77 642.19 591.73 639.72 590.69C637.24 589.66 634.77 588.64 632.29 587.62C629.81 586.60 627.32 585.60 624.84 584.60C622.35 583.60 619.86 582.61 617.37 581.63C614.88 580.64 612.38 579.67 609.88 578.70C607.39 577.73 604.89 576.77 602.38 575.82C599.88 574.87 597.38 573.92 594.87 572.98C592.36 572.04 589.85 571.11 587.34 570.18C584.83 569.25 582.32 568.33 579.80 567.42C577.29 566.50 574.77 565.59 572.25 564.68C569.73 563.78 567.21 562.88 564.69 561.98C562.17 561.08 559.64 560.19 557.12 559.30C554.59 558.41 552.07 557.53 549.54 556.65C547.01 555.77 544.48 554.89 541.95 554.02C539.42 553.14 536.89 552.27 534.36 551.40C531.83 550.53 529.30 549.67 526.76 548.80C524.23 547.94 521.70 547.08 519.16 546.22C516.63 545.36 514.09 544.50 511.56 543.64C509.02 542.78 506.49 541.93 503.95 541.07C501.42 540.21 498.88 539.36 496.34 538.50C493.81 537.65 491.27 536.79 488.74 535.94C486.20 535.08 483.67 534.22 481.13 533.37C478.60 532.51 476.07 531.65 473.53 530.79C471.00 529.93 468.46 529.07 465.93 528.21C463.40 527.35 460.87 526.48 458.34 525.62C455.81 524.75 453.28 523.88 450.75 523.01C448.22 522.14 445.69 521.27 443.17 520.40C440.64 519.53 438.11 518.66 435.58 517.79C433.05 516.93 430.52 516.07 427.99 515.23C425.45 514.38 422.92 513.54 420.38 512.72C417.84 511.90 415.30 511.09 412.75 510.30C410.20 509.51 407.65 508.73 405.10 507.98C402.54 507.23 399.98 506.50 397.41 505.80C394.84 505.10 392.26 504.41 389.68 503.77C387.09 503.12 384.50 502.50 381.90 501.91C379.30 501.33 376.69 500.78 374.07 500.26C371.45 499.74 368.82 499.29 366.19 498.82C363.56 498.34 360.91 497.92 358.29 497.42C355.67 496.91 353.04 496.42 350.44 495.81C347.85 495.20 345.27 494.52 342.71 493.75C340.15 492.98 337.62 492.12 335.09 491.21C332.57 490.30 330.06 489.31 327.57 488.29C325.07 487.28 321.35 485.64 320.10 485.12L320.2 486.2C320.27 487.49 320.35 491.34 320.41 493.93C320.47 496.52 320.53 499.13 320.60 501.75C320.68 504.37 320.76 507.00 320.85 509.64C320.94 512.28 321.05 514.94 321.17 517.60C321.29 520.26 321.42 522.93 321.57 525.61C321.73 528.28 321.90 530.96 322.09 533.64C322.29 536.33 322.50 539.01 322.74 541.70C322.98 544.39 323.24 547.07 323.54 549.76C323.83 552.44 324.15 555.13 324.51 557.80C324.86 560.48 325.25 563.16 325.67 565.82C326.09 568.49 326.54 571.15 327.04 573.80C327.54 576.45 328.07 579.09 328.64 581.72C329.22 584.34 329.83 586.96 330.49 589.56C331.16 592.17 331.86 594.75 332.62 597.32C333.37 599.89 334.18 602.45 335.03 604.98C335.88 607.52 336.79 610.03 337.74 612.52C338.70 615.01 339.70 617.49 340.76 619.93C341.82 622.38 342.93 624.80 344.09 627.19C345.25 629.58 346.46 631.95 347.73 634.29C348.99 636.62 350.31 638.93 351.68 641.20C353.05 643.47 354.48 645.72 355.95 647.92C357.42 650.13 358.95 652.30 360.52 654.44C362.09 656.58 363.70 658.69 365.36 660.76C367.02 662.83 368.73 664.86 370.47 666.85C372.21 668.85 373.99 670.81 375.81 672.73C377.63 674.65 379.49 676.53 381.38 678.37C383.26 680.22 385.19 682.02 387.14 683.78C389.10 685.55 391.08 687.27 393.10 688.95C395.11 690.64 397.15 692.28 399.23 693.89C401.30 695.50 403.40 697.07 405.52 698.60C407.65 700.13 409.81 701.63 411.98 703.09C414.16 704.55 416.37 705.98 418.59 707.37C420.82 708.77 423.07 710.13 425.35 711.45C427.62 712.78 429.92 714.07 432.24 715.34C434.56 716.60 436.90 717.83 439.25 719.04C441.61 720.24 443.99 721.41 446.39 722.55C448.79 723.70 451.20 724.81 453.63 725.90C456.07 726.98 458.52 728.04 460.98 729.08C463.45 730.11 465.93 731.12 468.42 732.10C470.92 733.08 473.43 734.04 475.95 734.97C478.47 735.91 481.00 736.82 483.55 737.71C486.09 738.60 488.65 739.46 491.22 740.31C493.78 741.15 496.36 741.97 498.95 742.78C501.53 743.58 504.13 744.36 506.73 745.13C509.33 745.89 511.94 746.64 514.55 747.37C517.17 748.10 519.79 748.81 522.41 749.51C525.04 750.20 527.67 750.88 530.30 751.55C532.93 752.21 535.57 752.86 538.20 753.50C540.84 754.14 543.48 754.76 546.12 755.37C548.75 755.99 551.39 756.58 554.03 757.17C556.67 757.76 559.30 758.34 561.94 758.90C564.58 759.47 567.21 760.03 569.85 760.57C572.48 761.12 575.11 761.65 577.75 762.18C580.38 762.70 583.01 763.22 585.64 763.72C588.28 764.23 590.91 764.72 593.54 765.21C596.17 765.69 598.80 766.17 601.43 766.64C604.06 767.11 606.69 767.57 609.32 768.02C611.95 768.47 614.58 768.91 617.21 769.35C619.83 769.78 622.46 770.21 625.09 770.62C627.72 771.04 630.35 771.45 632.98 771.86C635.61 772.26 638.23 772.65 640.86 773.04C643.49 773.43 646.12 773.81 648.75 774.19C651.38 774.56 654.01 774.93 656.64 775.29C659.26 775.65 661.89 776.01 664.52 776.36C667.15 776.71 669.78 777.05 672.41 777.39C675.04 777.73 677.68 778.06 680.31 778.39C682.94 778.71 685.57 779.04 688.20 779.35C690.84 779.67 693.47 779.98 696.10 780.29C698.74 780.60 701.37 780.90 704.01 781.20C706.64 781.50 709.28 781.79 711.92 782.09C714.56 782.38 717.19 782.66 719.83 782.95C722.47 783.23 725.11 783.51 727.75 783.78C730.39 784.06 733.03 784.33 735.67 784.60C738.32 784.87 740.96 785.13 743.60 785.39C746.25 785.65 748.89 785.91 751.54 786.16C754.18 786.41 756.83 786.66 759.47 786.91C762.12 787.15 764.76 787.39 767.41 787.63C770.06 787.87 772.71 788.11 775.36 788.34C778.01 788.57 780.66 788.80 783.31 789.02C785.96 789.25 788.61 789.47 791.26 789.69C793.91 789.90 796.56 790.12 799.22 790.33C801.87 790.54 804.52 790.75 807.18 790.96C809.83 791.16 812.48 791.36 815.14 791.56C817.79 791.76 820.45 791.96 823.11 792.15C825.76 792.34 828.42 792.53 831.08 792.72C833.73 792.91 836.39 793.09 839.05 793.27C841.71 793.45 844.37 793.63 847.03 793.80C849.69 793.98 852.34 794.15 855.01 794.32C857.67 794.49 860.33 794.66 862.99 794.82C865.65 794.99 868.31 795.15 870.97 795.31C873.63 795.47 876.30 795.62 878.96 795.78C881.62 795.93 884.29 796.08 886.95 796.23C889.61 796.38 892.28 796.53 894.94 796.67C897.61 796.82 900.27 796.96 902.94 797.10C905.60 797.24 908.27 797.38 910.94 797.51C913.60 797.65 916.27 797.78 918.93 797.91C921.60 798.04 924.27 798.17 926.94 798.29C929.60 798.42 932.27 798.54 934.94 798.67C937.61 798.79 940.28 798.91 942.94 799.03C945.61 799.15 948.28 799.26 950.95 799.38C953.62 799.49 956.29 799.60 958.96 799.71C961.63 799.83 964.30 799.93 966.97 800.04C969.64 800.15 972.31 800.25 974.98 800.36C977.65 800.46 980.32 800.56 982.99 800.66C985.66 800.76 988.33 800.86 991.01 800.96C993.68 801.06 996.35 801.15 999.02 801.25C1001.69 801.34 1004.36 801.44 1007.04 801.53C1009.71 801.62 1012.38 801.71 1015.05 801.80C1017.72 801.89 1020.40 801.97 1023.07 802.06C1025.74 802.15 1028.41 802.23 1031.09 802.31C1033.76 802.40 1036.43 802.48 1039.10 802.56C1041.78 802.64 1044.45 802.72 1047.12 802.80C1049.79 802.88 1052.47 802.96 1055.14 803.04C1057.81 803.12 1060.49 803.19 1063.16 803.27C1065.83 803.34 1068.50 803.42 1071.18 803.49C1073.85 803.57 1076.52 803.64 1079.20 803.71C1081.87 803.78 1084.54 803.86 1087.21 803.93C1089.89 804.00 1092.56 804.07 1095.23 804.14C1097.90 804.21 1100.58 804.28 1103.25 804.34C1105.92 804.41 1108.59 804.48 1111.27 804.55C1113.94 804.61 1116.61 804.68 1119.28 804.75C1121.96 804.81 1124.63 804.88 1127.30 804.95C1129.97 805.01 1132.64 805.08 1135.31 805.14C1137.99 805.21 1140.66 805.27 1143.33 805.34C1146.00 805.40 1148.67 805.47 1151.34 805.53C1154.01 805.60 1156.68 805.66 1159.35 805.72C1162.02 805.79 1164.69 805.85 1167.36 805.92C1170.03 805.98 1172.70 806.05 1175.37 806.11C1178.04 806.18 1180.71 806.24 1183.38 806.30C1186.05 806.37 1188.72 806.43 1191.39 806.50C1194.06 806.56 1196.72 806.63 1199.39 806.70C1202.06 806.76 1204.73 806.83 1207.39 806.89C1210.06 806.96 1212.73 807.03 1215.39 807.09C1218.06 807.16 1220.73 807.23 1223.39 807.29C1226.06 807.36 1228.73 807.43 1231.39 807.50C1234.06 807.57 1236.72 807.64 1239.39 807.70C1242.05 807.77 1244.72 807.84 1247.38 807.91C1250.05 807.98 1252.71 808.05 1255.38 808.12C1258.04 808.19 1260.70 808.26 1263.37 808.33C1266.03 808.41 1268.69 808.48 1271.36 808.55C1274.02 808.62 1276.69 808.69 1279.35 808.77C1282.01 808.84 1284.67 808.91 1287.34 808.99C1290.00 809.06 1292.66 809.13 1295.32 809.21C1297.99 809.28 1300.65 809.36 1303.31 809.43C1305.97 809.51 1308.64 809.58 1311.30 809.66C1313.96 809.73 1316.62 809.81 1319.28 809.89C1321.95 809.96 1324.61 810.04 1327.27 810.12C1329.93 810.20 1332.59 810.27 1335.25 810.35C1337.91 810.43 1340.58 810.51 1343.24 810.59C1345.90 810.67 1348.56 810.75 1351.22 810.83C1353.88 810.91 1356.54 810.99 1359.20 811.07C1361.87 811.15 1364.53 811.23 1367.19 811.32C1369.85 811.40 1372.51 811.48 1375.17 811.56C1377.83 811.65 1380.49 811.73 1383.15 811.81C1385.82 811.90 1388.48 811.98 1391.14 812.07C1393.80 812.15 1396.46 812.24 1399.12 812.33C1401.78 812.41 1404.44 812.50 1407.10 812.58C1409.77 812.67 1412.43 812.76 1415.09 812.85C1417.75 812.94 1420.41 813.02 1423.07 813.11C1425.73 813.20 1428.40 813.29 1431.06 813.38C1433.72 813.47 1436.38 813.56 1439.04 813.65C1441.70 813.75 1444.37 813.84 1447.03 813.93C1449.69 814.02 1452.35 814.12 1455.02 814.21C1457.68 814.30 1460.34 814.40 1463.00 814.49C1465.67 814.58 1468.33 814.68 1470.99 814.78C1473.65 814.87 1476.32 814.97 1478.98 815.06C1481.64 815.16 1484.31 815.26 1486.97 815.36C1489.64 815.45 1492.30 815.55 1494.96 815.65C1497.63 815.75 1500.29 815.85 1502.96 815.95C1505.62 816.05 1508.29 816.15 1510.95 816.25C1513.62 816.36 1516.28 816.46 1518.95 816.56C1521.61 816.66 1524.28 816.77 1526.94 816.87C1529.61 816.97 1532.28 817.08 1534.94 817.18C1537.61 817.29 1540.28 817.40 1542.94 817.50C1545.61 817.61 1548.28 817.72 1550.94 817.82C1553.61 817.93 1556.28 818.04 1558.95 818.15C1561.62 818.26 1564.28 818.37 1566.95 818.48C1569.62 818.59 1572.29 818.70 1574.96 818.81C1577.63 818.92 1580.30 819.03 1582.97 819.15C1585.64 819.26 1588.31 819.38 1590.98 819.49C1593.65 819.61 1596.32 819.73 1598.99 819.85C1601.66 819.97 1604.33 820.09 1607.01 820.22C1609.68 820.35 1612.35 820.48 1615.02 820.61C1617.69 820.75 1620.36 820.88 1623.02 821.03C1625.69 821.17 1628.36 821.31 1631.03 821.47C1633.70 821.62 1636.37 821.78 1639.03 821.94C1641.70 822.10 1644.37 822.27 1647.03 822.45C1649.70 822.62 1652.36 822.81 1655.03 823.00C1657.69 823.19 1660.36 823.38 1663.02 823.59C1665.68 823.79 1668.34 824.00 1671.00 824.23C1673.66 824.45 1676.32 824.68 1678.98 824.92C1681.63 825.15 1684.29 825.40 1686.95 825.66C1689.60 825.92 1692.25 826.19 1694.91 826.46C1697.56 826.74 1700.21 827.03 1702.86 827.33C1705.50 827.63 1708.15 827.94 1710.80 828.27C1713.44 828.59 1716.08 828.92 1718.73 829.27C1721.37 829.62 1724.01 829.97 1726.65 830.34C1729.28 830.71 1731.92 831.09 1734.56 831.48C1737.19 831.87 1739.83 832.27 1742.46 832.67C1745.09 833.08 1747.72 833.50 1750.35 833.93C1752.98 834.36 1755.61 834.80 1758.23 835.24C1760.86 835.69 1763.48 836.14 1766.11 836.60C1768.73 837.07 1771.36 837.54 1773.98 838.02C1776.60 838.50 1779.22 838.98 1781.84 839.48C1784.46 839.97 1787.08 840.47 1789.69 840.98C1792.31 841.49 1794.93 842.00 1797.54 842.52C1800.16 843.04 1802.77 843.57 1805.39 844.10C1808.00 844.63 1810.61 845.17 1813.23 845.72C1815.84 846.26 1818.45 846.81 1821.06 847.36C1823.67 847.92 1826.28 848.47 1828.89 849.04C1831.50 849.60 1834.11 850.17 1836.72 850.74C1839.33 851.31 1841.93 851.88 1844.54 852.46C1847.15 853.04 1849.76 853.62 1852.36 854.20C1854.97 854.79 1858.88 855.67 1860.18 855.96"/><path class="cv" stroke="#0000ff" stroke-width="5.2" d="M1859.8 821.0C1858.70 820.17 1855.43 817.64 1853.20 816.09C1850.97 814.54 1848.70 813.08 1846.41 811.69C1844.11 810.30 1841.79 809.00 1839.44 807.76C1837.09 806.53 1834.71 805.37 1832.30 804.28C1829.90 803.18 1827.47 802.16 1825.02 801.20C1822.57 800.23 1820.09 799.33 1817.60 798.49C1815.10 797.64 1812.58 796.85 1810.05 796.11C1807.52 795.37 1804.96 794.69 1802.40 794.04C1799.83 793.40 1797.24 792.81 1794.65 792.25C1792.05 791.69 1789.44 791.17 1786.82 790.69C1784.20 790.20 1781.56 789.75 1778.92 789.33C1776.28 788.90 1773.63 788.51 1770.97 788.14C1768.32 787.77 1765.65 787.42 1762.98 787.09C1760.32 786.76 1757.64 786.45 1754.97 786.14C1752.30 785.84 1749.62 785.55 1746.95 785.26C1744.28 784.98 1741.60 784.70 1738.93 784.43C1736.25 784.15 1733.58 783.89 1730.91 783.63C1728.23 783.37 1725.56 783.12 1722.89 782.87C1720.21 782.62 1717.54 782.38 1714.87 782.14C1712.20 781.91 1709.52 781.68 1706.85 781.45C1704.18 781.23 1701.51 781.01 1698.84 780.80C1696.17 780.58 1693.49 780.38 1690.82 780.17C1688.15 779.97 1685.48 779.77 1682.81 779.58C1680.14 779.39 1677.47 779.20 1674.80 779.02C1672.13 778.84 1669.46 778.66 1666.79 778.49C1664.12 778.31 1661.45 778.15 1658.78 777.98C1656.11 777.82 1653.44 777.66 1650.77 777.50C1648.10 777.35 1645.44 777.20 1642.77 777.05C1640.10 776.91 1637.43 776.76 1634.76 776.62C1632.09 776.48 1629.42 776.35 1626.76 776.22C1624.09 776.09 1621.42 775.96 1618.75 775.84C1616.08 775.71 1613.42 775.59 1610.75 775.47C1608.08 775.36 1605.41 775.24 1602.74 775.13C1600.08 775.02 1597.41 774.91 1594.74 774.81C1592.07 774.70 1589.41 774.60 1586.74 774.50C1584.07 774.40 1581.41 774.31 1578.74 774.21C1576.07 774.12 1573.40 774.03 1570.74 773.94C1568.07 773.85 1565.40 773.76 1562.73 773.67C1560.07 773.59 1557.40 773.51 1554.73 773.43C1552.07 773.35 1549.40 773.27 1546.73 773.19C1544.07 773.11 1541.40 773.04 1538.73 772.96C1536.06 772.89 1533.40 772.82 1530.73 772.75C1528.06 772.68 1525.40 772.61 1522.73 772.54C1520.06 772.47 1517.40 772.40 1514.73 772.34C1512.06 772.27 1509.39 772.20 1506.73 772.14C1504.06 772.08 1501.39 772.01 1498.73 771.95C1496.06 771.89 1493.39 771.82 1490.72 771.76C1488.06 771.70 1485.39 771.64 1482.72 771.57C1480.05 771.51 1477.38 771.45 1474.72 771.39C1472.05 771.33 1469.38 771.27 1466.71 771.21C1464.05 771.14 1461.38 771.08 1458.71 771.02C1456.04 770.96 1453.37 770.90 1450.70 770.83C1448.03 770.77 1445.37 770.71 1442.70 770.64C1440.03 770.58 1437.36 770.51 1434.69 770.44C1432.02 770.38 1429.35 770.31 1426.68 770.24C1424.01 770.17 1421.34 770.10 1418.67 770.03C1416.00 769.96 1413.33 769.89 1410.66 769.82C1407.99 769.75 1405.32 769.67 1402.65 769.60C1399.98 769.52 1397.31 769.45 1394.64 769.37C1391.97 769.29 1389.30 769.21 1386.63 769.13C1383.96 769.05 1381.29 768.97 1378.62 768.89C1375.95 768.81 1373.27 768.73 1370.60 768.64C1367.93 768.56 1365.26 768.47 1362.59 768.39C1359.92 768.30 1357.25 768.21 1354.57 768.12C1351.90 768.03 1349.23 767.94 1346.56 767.85C1343.89 767.76 1341.22 767.67 1338.54 767.58C1335.87 767.48 1333.20 767.39 1330.53 767.29C1327.86 767.20 1325.19 767.10 1322.51 767.00C1319.84 766.91 1317.17 766.81 1314.50 766.71C1311.83 766.61 1309.15 766.51 1306.48 766.40C1303.81 766.30 1301.14 766.20 1298.46 766.09C1295.79 765.99 1293.12 765.88 1290.45 765.77C1287.78 765.67 1285.10 765.56 1282.43 765.45C1279.76 765.34 1277.09 765.23 1274.42 765.12C1271.74 765.01 1269.07 764.89 1266.40 764.78C1263.73 764.67 1261.06 764.55 1258.38 764.43C1255.71 764.32 1253.04 764.20 1250.37 764.08C1247.70 763.96 1245.03 763.84 1242.35 763.72C1239.68 763.60 1237.01 763.48 1234.34 763.35C1231.67 763.23 1229.00 763.11 1226.33 762.98C1223.65 762.85 1220.98 762.73 1218.31 762.60C1215.64 762.47 1212.97 762.34 1210.30 762.21C1207.63 762.08 1204.96 761.95 1202.29 761.82C1199.62 761.68 1196.95 761.55 1194.28 761.41C1191.61 761.28 1188.94 761.14 1186.27 761.00C1183.60 760.87 1180.93 760.73 1178.26 760.59C1175.59 760.45 1172.92 760.31 1170.25 760.16C1167.58 760.02 1164.91 759.88 1162.24 759.73C1159.57 759.59 1156.90 759.44 1154.23 759.29C1151.56 759.15 1148.90 759.00 1146.23 758.85C1143.56 758.70 1140.89 758.55 1138.22 758.40C1135.55 758.24 1132.89 758.09 1130.22 757.94C1127.55 757.78 1124.88 757.63 1122.22 757.47C1119.55 757.31 1116.88 757.15 1114.22 756.99C1111.55 756.83 1108.88 756.67 1106.22 756.51C1103.55 756.35 1100.89 756.19 1098.22 756.02C1095.55 755.86 1092.89 755.69 1090.22 755.53C1087.56 755.36 1084.89 755.19 1082.23 755.02C1079.56 754.85 1076.90 754.68 1074.24 754.51C1071.57 754.34 1068.91 754.17 1066.24 753.99C1063.58 753.82 1060.92 753.64 1058.26 753.47C1055.59 753.29 1052.93 753.11 1050.27 752.93C1047.61 752.75 1044.94 752.57 1042.28 752.39C1039.62 752.21 1036.96 752.03 1034.30 751.84C1031.64 751.66 1028.98 751.47 1026.32 751.29C1023.66 751.10 1021.00 750.91 1018.34 750.72C1015.68 750.53 1013.02 750.34 1010.36 750.15C1007.70 749.95 1005.04 749.76 1002.38 749.56C999.72 749.36 997.06 749.16 994.41 748.95C991.75 748.75 989.09 748.54 986.43 748.33C983.77 748.12 981.11 747.91 978.45 747.69C975.79 747.47 973.14 747.25 970.48 747.02C967.82 746.79 965.16 746.56 962.50 746.33C959.84 746.09 957.18 745.85 954.52 745.61C951.86 745.36 949.20 745.11 946.54 744.86C943.88 744.60 941.22 744.34 938.56 744.07C935.90 743.81 933.24 743.54 930.57 743.26C927.91 742.98 925.25 742.69 922.59 742.40C919.92 742.11 917.26 741.81 914.59 741.50C911.93 741.19 909.26 740.88 906.60 740.56C903.94 740.23 901.27 739.90 898.61 739.55C895.95 739.21 893.29 738.85 890.63 738.47C887.97 738.09 885.32 737.70 882.67 737.29C880.02 736.88 877.37 736.45 874.73 736.00C872.09 735.54 869.46 735.07 866.83 734.57C864.20 734.06 861.58 733.54 858.96 732.98C856.35 732.43 853.74 731.85 851.15 731.23C848.55 730.62 845.96 729.97 843.38 729.29C840.81 728.61 838.24 727.90 835.68 727.15C833.12 726.40 830.58 725.61 828.04 724.79C825.51 723.97 822.99 723.12 820.47 722.23C817.96 721.35 815.46 720.43 812.98 719.47C810.49 718.52 808.01 717.54 805.55 716.52C803.09 715.51 800.63 714.46 798.20 713.38C795.76 712.31 793.33 711.20 790.92 710.07C788.51 708.93 786.11 707.76 783.72 706.57C781.34 705.38 778.96 704.16 776.60 702.91C774.25 701.66 771.90 700.38 769.57 699.08C767.24 697.78 764.92 696.45 762.62 695.10C760.32 693.74 758.03 692.36 755.76 690.96C753.49 689.56 751.23 688.13 748.99 686.68C746.74 685.23 744.52 683.75 742.30 682.26C740.09 680.76 737.90 679.24 735.72 677.70C733.54 676.16 731.37 674.60 729.22 673.02C727.08 671.44 724.95 669.84 722.83 668.22C720.71 666.60 718.62 664.96 716.53 663.30C714.44 661.65 712.37 659.98 710.30 658.29C708.24 656.61 706.19 654.91 704.15 653.20C702.10 651.50 700.07 649.78 698.04 648.05C696.01 646.33 693.99 644.59 691.97 642.86C689.95 641.12 687.94 639.37 685.92 637.63C683.91 635.88 681.90 634.13 679.89 632.39C677.88 630.64 675.87 628.89 673.85 627.15C671.84 625.40 669.82 623.66 667.80 621.92C665.78 620.18 663.75 618.46 661.72 616.71C659.69 614.97 657.65 613.23 655.61 611.47C653.56 609.70 651.52 607.93 649.46 606.14C647.40 604.35 645.34 602.52 643.26 600.72C641.19 598.92 639.10 597.09 637.00 595.32C634.90 593.54 632.78 591.76 630.64 590.05C628.51 588.34 626.35 586.64 624.17 585.04C621.99 583.43 619.78 581.86 617.55 580.40C615.32 578.94 613.05 577.55 610.76 576.26C608.47 574.97 606.15 573.77 603.80 572.66C601.45 571.54 599.07 570.52 596.67 569.57C594.27 568.62 591.84 567.76 589.39 566.96C586.94 566.16 584.46 565.44 581.96 564.78C579.47 564.11 576.95 563.52 574.41 562.98C571.87 562.44 569.32 561.97 566.74 561.54C564.17 561.11 561.57 560.74 558.97 560.40C556.36 560.07 553.74 559.79 551.10 559.54C548.46 559.29 545.81 559.08 543.15 558.90C540.49 558.72 537.82 558.58 535.14 558.46C532.45 558.33 529.76 558.24 527.06 558.15C524.37 558.07 521.66 558.01 518.95 557.96C516.24 557.91 513.52 557.87 510.80 557.83C508.08 557.80 505.36 557.77 502.64 557.73C499.91 557.70 497.19 557.67 494.46 557.62C491.74 557.57 489.02 557.52 486.30 557.45C483.58 557.38 480.86 557.30 478.15 557.19C475.44 557.08 472.73 556.95 470.03 556.79C467.33 556.62 464.63 556.44 461.95 556.21C459.26 555.98 456.59 555.72 453.92 555.43C451.26 555.13 448.60 554.79 445.95 554.42C443.31 554.05 440.67 553.65 438.04 553.21C435.41 552.76 432.79 552.29 430.19 551.78C427.58 551.26 424.98 550.72 422.39 550.13C419.80 549.55 417.22 548.93 414.66 548.28C412.09 547.63 409.53 546.94 406.98 546.22C404.43 545.50 401.90 544.75 399.37 543.96C396.85 543.17 394.33 542.34 391.83 541.49C389.32 540.63 386.83 539.74 384.34 538.81C381.86 537.89 379.39 536.93 376.93 535.94C374.47 534.95 372.02 533.92 369.58 532.87C367.14 531.81 364.72 530.72 362.30 529.59C359.89 528.47 357.49 527.31 355.10 526.13C352.70 524.94 350.33 523.72 347.96 522.46C345.59 521.21 343.24 519.93 340.89 518.61C338.55 517.29 336.22 515.94 333.90 514.56C331.58 513.18 329.28 511.77 326.98 510.33C324.69 508.89 321.28 506.64 320.14 505.91L320.1 506.2C320.09 507.51 320.15 511.39 320.20 514.01C320.26 516.62 320.32 519.25 320.40 521.88C320.47 524.52 320.56 527.17 320.67 529.82C320.77 532.47 320.89 535.14 321.04 537.80C321.18 540.47 321.34 543.15 321.52 545.82C321.71 548.50 321.91 551.18 322.15 553.86C322.38 556.54 322.64 559.23 322.93 561.91C323.22 564.59 323.54 567.27 323.89 569.94C324.24 572.62 324.62 575.29 325.04 577.95C325.46 580.62 325.92 583.28 326.41 585.93C326.91 588.58 327.44 591.22 328.02 593.85C328.60 596.48 329.21 599.11 329.88 601.71C330.54 604.32 331.25 606.92 332.01 609.49C332.77 612.07 333.58 614.63 334.43 617.17C335.29 619.71 336.19 622.24 337.14 624.73C338.10 627.23 339.10 629.71 340.16 632.16C341.22 634.61 342.33 637.03 343.49 639.42C344.65 641.81 345.87 644.18 347.14 646.51C348.41 648.84 349.74 651.13 351.12 653.39C352.51 655.65 353.95 657.88 355.45 660.06C356.95 662.24 358.50 664.39 360.12 666.49C361.73 668.59 363.41 670.64 365.15 672.65C366.88 674.67 368.68 676.63 370.53 678.55C372.37 680.47 374.28 682.35 376.22 684.18C378.16 686.01 380.16 687.79 382.19 689.54C384.22 691.28 386.30 692.98 388.40 694.63C390.50 696.28 392.65 697.89 394.81 699.46C396.98 701.03 399.17 702.55 401.39 704.03C403.60 705.51 405.84 706.95 408.10 708.35C410.35 709.75 412.63 711.10 414.93 712.42C417.23 713.74 419.54 715.02 421.88 716.26C424.22 717.50 426.57 718.70 428.94 719.87C431.31 721.04 433.71 722.17 436.11 723.27C438.52 724.37 440.94 725.43 443.38 726.46C445.81 727.50 448.27 728.50 450.73 729.47C453.20 730.44 455.68 731.38 458.18 732.29C460.67 733.20 463.18 734.09 465.70 734.94C468.22 735.80 470.75 736.63 473.29 737.44C475.83 738.24 478.39 739.02 480.95 739.78C483.51 740.54 486.09 741.27 488.67 741.98C491.25 742.70 493.84 743.39 496.44 744.06C499.03 744.73 501.64 745.39 504.25 746.02C506.86 746.66 509.48 747.27 512.10 747.87C514.73 748.48 517.36 749.06 519.99 749.63C522.62 750.20 525.26 750.76 527.90 751.30C530.54 751.85 533.19 752.38 535.83 752.90C538.48 753.42 541.13 753.93 543.78 754.43C546.42 754.94 549.08 755.43 551.73 755.92C554.38 756.40 557.03 756.88 559.68 757.35C562.33 757.82 564.97 758.29 567.62 758.75C570.27 759.21 572.92 759.66 575.57 760.11C578.22 760.55 580.87 760.99 583.52 761.43C586.17 761.86 588.82 762.29 591.47 762.71C594.11 763.13 596.76 763.55 599.41 763.96C602.06 764.37 604.71 764.77 607.36 765.17C610.00 765.57 612.65 765.96 615.30 766.35C617.95 766.73 620.60 767.11 623.25 767.49C625.89 767.87 628.54 768.24 631.19 768.61C633.84 768.97 636.49 769.33 639.13 769.69C641.78 770.05 644.43 770.40 647.08 770.74C649.73 771.09 652.38 771.43 655.02 771.77C657.67 772.11 660.32 772.44 662.97 772.77C665.62 773.10 668.27 773.42 670.92 773.74C673.57 774.06 676.21 774.38 678.86 774.69C681.51 775.00 684.16 775.31 686.81 775.62C689.46 775.92 692.11 776.22 694.76 776.52C697.41 776.82 700.06 777.11 702.71 777.40C705.36 777.69 708.01 777.98 710.66 778.26C713.31 778.54 715.96 778.82 718.61 779.10C721.27 779.38 723.92 779.65 726.57 779.93C729.22 780.20 731.87 780.47 734.52 780.73C737.18 781.00 739.83 781.26 742.48 781.52C745.13 781.78 747.79 782.04 750.44 782.30C753.09 782.55 755.75 782.81 758.40 783.06C761.06 783.31 763.71 783.56 766.37 783.80C769.02 784.05 771.68 784.29 774.33 784.54C776.99 784.78 779.64 785.02 782.30 785.25C784.95 785.49 787.61 785.73 790.27 785.96C792.92 786.19 795.58 786.42 798.24 786.65C800.89 786.88 803.55 787.10 806.21 787.33C808.87 787.55 811.52 787.77 814.18 787.99C816.84 788.21 819.50 788.42 822.16 788.64C824.82 788.85 827.48 789.07 830.14 789.28C832.80 789.49 835.45 789.69 838.11 789.90C840.77 790.11 843.43 790.31 846.10 790.51C848.76 790.71 851.42 790.91 854.08 791.11C856.74 791.31 859.40 791.50 862.06 791.70C864.72 791.89 867.38 792.08 870.05 792.27C872.71 792.46 875.37 792.65 878.03 792.83C880.69 793.02 883.36 793.20 886.02 793.38C888.68 793.56 891.35 793.74 894.01 793.92C896.67 794.10 899.34 794.27 902.00 794.45C904.66 794.62 907.33 794.79 909.99 794.96C912.66 795.13 915.32 795.30 917.98 795.46C920.65 795.63 923.31 795.80 925.98 795.96C928.64 796.12 931.31 796.28 933.97 796.44C936.64 796.60 939.31 796.76 941.97 796.91C944.64 797.07 947.30 797.22 949.97 797.37C952.64 797.52 955.30 797.67 957.97 797.82C960.64 797.97 963.30 798.12 965.97 798.26C968.64 798.41 971.30 798.55 973.97 798.69C976.64 798.83 979.31 798.97 981.97 799.11C984.64 799.25 987.31 799.39 989.98 799.52C992.64 799.66 995.31 799.79 997.98 799.92C1000.65 800.05 1003.32 800.18 1005.99 800.31C1008.65 800.44 1011.32 800.57 1013.99 800.69C1016.66 800.82 1019.33 800.94 1022.00 801.07C1024.67 801.19 1027.34 801.31 1030.01 801.43C1032.68 801.55 1035.35 801.67 1038.02 801.78C1040.69 801.90 1043.36 802.02 1046.03 802.13C1048.70 802.24 1051.37 802.36 1054.04 802.47C1056.71 802.58 1059.38 802.69 1062.05 802.80C1064.72 802.91 1067.39 803.01 1070.06 803.12C1072.73 803.23 1075.40 803.33 1078.07 803.43C1080.74 803.54 1083.42 803.64 1086.09 803.74C1088.76 803.84 1091.43 803.94 1094.10 804.04C1096.77 804.14 1099.44 804.23 1102.12 804.33C1104.79 804.42 1107.46 804.52 1110.13 804.61C1112.80 804.70 1115.48 804.80 1118.15 804.89C1120.82 804.98 1123.49 805.07 1126.16 805.16C1128.84 805.25 1131.51 805.33 1134.18 805.42C1136.85 805.51 1139.53 805.59 1142.20 805.68C1144.87 805.76 1147.54 805.84 1150.22 805.93C1152.89 806.01 1155.56 806.09 1158.23 806.17C1160.91 806.25 1163.58 806.33 1166.25 806.41C1168.92 806.48 1171.60 806.56 1174.27 806.64C1176.94 806.71 1179.62 806.79 1182.29 806.86C1184.96 806.94 1187.64 807.01 1190.31 807.08C1192.98 807.15 1195.66 807.23 1198.33 807.30C1201.00 807.37 1203.68 807.44 1206.35 807.51C1209.02 807.57 1211.70 807.64 1214.37 807.71C1217.04 807.78 1219.72 807.84 1222.39 807.91C1225.06 807.97 1227.74 808.04 1230.41 808.10C1233.08 808.17 1235.76 808.23 1238.43 808.29C1241.10 808.35 1243.78 808.42 1246.45 808.48C1249.12 808.54 1251.80 808.60 1254.47 808.66C1257.14 808.72 1259.82 808.78 1262.49 808.83C1265.16 808.89 1267.84 808.95 1270.51 809.01C1273.18 809.06 1275.86 809.12 1278.53 809.18C1281.20 809.23 1283.88 809.29 1286.55 809.34C1289.22 809.40 1291.90 809.45 1294.57 809.50C1297.24 809.56 1299.92 809.61 1302.59 809.66C1305.26 809.71 1307.94 809.77 1310.61 809.82C1313.28 809.87 1315.96 809.92 1318.63 809.97C1321.30 810.02 1323.98 810.07 1326.65 810.12C1329.32 810.17 1332.00 810.22 1334.67 810.27C1337.34 810.32 1340.02 810.36 1342.69 810.41C1345.36 810.46 1348.03 810.51 1350.71 810.55C1353.38 810.60 1356.05 810.65 1358.72 810.69C1361.40 810.74 1364.07 810.79 1366.74 810.83C1369.41 810.88 1372.09 810.93 1374.76 810.97C1377.43 811.02 1380.10 811.06 1382.78 811.11C1385.45 811.16 1388.12 811.20 1390.79 811.25C1393.46 811.30 1396.14 811.35 1398.81 811.39C1401.48 811.44 1404.15 811.49 1406.82 811.54C1409.49 811.59 1412.17 811.64 1414.84 811.69C1417.51 811.74 1420.18 811.79 1422.85 811.85C1425.52 811.90 1428.19 811.95 1430.86 812.01C1433.53 812.07 1436.20 812.12 1438.87 812.18C1441.55 812.24 1444.22 812.30 1446.89 812.36C1449.56 812.42 1452.23 812.48 1454.90 812.54C1457.57 812.61 1460.24 812.67 1462.91 812.74C1465.57 812.81 1468.24 812.88 1470.91 812.95C1473.58 813.02 1476.25 813.09 1478.92 813.17C1481.59 813.25 1484.26 813.32 1486.93 813.40C1489.59 813.48 1492.26 813.57 1494.93 813.65C1497.60 813.73 1500.27 813.82 1502.94 813.91C1505.60 814.00 1508.27 814.09 1510.94 814.19C1513.60 814.29 1516.27 814.38 1518.94 814.48C1521.61 814.59 1524.27 814.69 1526.94 814.80C1529.61 814.90 1532.27 815.01 1534.94 815.13C1537.60 815.24 1540.27 815.36 1542.93 815.48C1545.60 815.60 1548.27 815.72 1550.93 815.85C1553.60 815.98 1556.26 816.11 1558.92 816.24C1561.59 816.38 1564.25 816.52 1566.92 816.66C1569.58 816.80 1572.24 816.95 1574.91 817.10C1577.57 817.25 1580.23 817.40 1582.90 817.56C1585.56 817.72 1588.22 817.88 1590.89 818.05C1593.55 818.22 1596.21 818.39 1598.87 818.56C1601.53 818.74 1604.19 818.92 1606.86 819.11C1609.52 819.29 1612.18 819.48 1614.84 819.68C1617.50 819.87 1620.16 820.07 1622.82 820.28C1625.48 820.48 1628.14 820.69 1630.80 820.91C1633.46 821.12 1636.12 821.34 1638.77 821.57C1641.43 821.79 1644.09 822.02 1646.75 822.26C1649.41 822.50 1652.06 822.74 1654.72 822.99C1657.38 823.23 1660.04 823.49 1662.69 823.75C1665.35 824.01 1668.01 824.27 1670.66 824.54C1673.32 824.81 1675.97 825.09 1678.63 825.37C1681.28 825.66 1683.94 825.95 1686.59 826.24C1689.25 826.54 1691.90 826.84 1694.55 827.15C1697.21 827.46 1699.86 827.77 1702.51 828.09C1705.17 828.41 1707.82 828.74 1710.47 829.08C1713.12 829.41 1715.77 829.75 1718.42 830.10C1721.07 830.45 1723.72 830.81 1726.37 831.18C1729.02 831.55 1731.67 831.93 1734.31 832.32C1736.96 832.71 1739.60 833.11 1742.24 833.52C1744.88 833.94 1747.52 834.37 1750.16 834.81C1752.79 835.25 1755.43 835.71 1758.06 836.18C1760.69 836.65 1763.31 837.14 1765.94 837.65C1768.56 838.15 1771.18 838.68 1773.80 839.22C1776.41 839.76 1779.02 840.32 1781.63 840.90C1784.24 841.49 1786.84 842.09 1789.44 842.71C1792.04 843.34 1794.63 843.98 1797.22 844.64C1799.81 845.30 1802.39 845.97 1804.98 846.66C1807.56 847.35 1810.14 848.05 1812.72 848.76C1815.30 849.46 1817.87 850.18 1820.45 850.90C1823.02 851.62 1825.60 852.35 1828.17 853.08C1830.74 853.80 1833.31 854.53 1835.89 855.26C1838.46 855.98 1841.03 856.71 1843.61 857.42C1846.18 858.14 1848.76 858.85 1851.34 859.55C1853.91 860.25 1857.79 861.27 1859.07 861.62"/><path class="cv" stroke="#008080" stroke-width="5.2" d="M1716.0 1420.0C1715.92 1418.71 1715.55 1414.71 1715.31 1412.04C1715.07 1409.37 1714.82 1406.71 1714.58 1404.04C1714.33 1401.37 1714.09 1398.71 1713.84 1396.04C1713.60 1393.37 1713.35 1390.71 1713.10 1388.04C1712.86 1385.38 1712.61 1382.71 1712.36 1380.05C1712.11 1377.38 1711.86 1374.72 1711.61 1372.05C1711.36 1369.39 1711.11 1366.73 1710.86 1364.06C1710.61 1361.40 1710.36 1358.74 1710.11 1356.08C1709.85 1353.41 1709.60 1350.75 1709.34 1348.09C1709.08 1345.43 1708.83 1342.77 1708.57 1340.11C1708.31 1337.45 1708.05 1334.79 1707.79 1332.13C1707.52 1329.47 1707.26 1326.81 1706.99 1324.15C1706.73 1321.49 1706.46 1318.83 1706.19 1316.17C1705.92 1313.52 1705.65 1310.86 1705.38 1308.20C1705.10 1305.54 1704.83 1302.89 1704.55 1300.23C1704.27 1297.57 1703.99 1294.92 1703.71 1292.26C1703.43 1289.61 1703.14 1286.95 1702.85 1284.30C1702.57 1281.64 1702.28 1278.99 1701.98 1276.34C1701.69 1273.68 1701.40 1271.03 1701.10 1268.38C1700.80 1265.72 1700.50 1263.07 1700.19 1260.42C1699.89 1257.77 1699.58 1255.12 1699.27 1252.47C1698.96 1249.82 1698.65 1247.17 1698.33 1244.52C1698.01 1241.87 1697.69 1239.22 1697.37 1236.57C1697.05 1233.92 1696.72 1231.27 1696.39 1228.62C1696.06 1225.98 1695.72 1223.33 1695.39 1220.68C1695.05 1218.03 1694.71 1215.39 1694.36 1212.74C1694.02 1210.10 1693.67 1207.45 1693.31 1204.81C1692.96 1202.16 1692.60 1199.52 1692.24 1196.87C1691.88 1194.23 1691.51 1191.59 1691.14 1188.94C1690.77 1186.30 1690.39 1183.66 1690.01 1181.02C1689.63 1178.38 1689.25 1175.74 1688.86 1173.09C1688.47 1170.45 1688.08 1167.81 1687.68 1165.17C1687.28 1162.54 1686.88 1159.90 1686.47 1157.26C1686.06 1154.62 1685.65 1151.98 1685.23 1149.34C1684.82 1146.71 1684.39 1144.07 1683.96 1141.44C1683.54 1138.80 1683.10 1136.16 1682.66 1133.53C1682.22 1130.89 1681.78 1128.26 1681.33 1125.63C1680.88 1122.99 1680.42 1120.36 1679.96 1117.73C1679.50 1115.09 1679.03 1112.46 1678.56 1109.83C1678.09 1107.20 1677.61 1104.57 1677.12 1101.94C1676.64 1099.31 1676.14 1096.68 1675.65 1094.05C1675.15 1091.42 1674.65 1088.79 1674.14 1086.16C1673.63 1083.54 1673.11 1080.91 1672.59 1078.28C1672.07 1075.66 1671.54 1073.03 1671.00 1070.40C1670.46 1067.78 1669.92 1065.15 1669.37 1062.53C1668.82 1059.91 1668.27 1057.28 1667.70 1054.66C1667.14 1052.04 1666.57 1049.41 1665.99 1046.79C1665.42 1044.17 1664.83 1041.55 1664.24 1038.93C1663.64 1036.32 1663.04 1033.70 1662.42 1031.09C1661.81 1028.47 1661.18 1025.86 1660.54 1023.25C1659.90 1020.65 1659.25 1018.05 1658.58 1015.45C1657.91 1012.85 1657.23 1010.26 1656.53 1007.67C1655.83 1005.09 1655.12 1002.50 1654.38 999.93C1653.65 997.36 1652.90 994.79 1652.12 992.23C1651.35 989.67 1650.56 987.12 1649.74 984.58C1648.93 982.03 1648.09 979.50 1647.23 976.98C1646.37 974.45 1645.49 971.94 1644.58 969.44C1643.67 966.93 1642.74 964.44 1641.77 961.96C1640.81 959.48 1639.82 957.01 1638.80 954.55C1637.79 952.09 1636.74 949.65 1635.66 947.22C1634.58 944.79 1633.48 942.37 1632.34 939.97C1631.20 937.57 1630.03 935.18 1628.84 932.81C1627.64 930.43 1626.41 928.07 1625.16 925.73C1623.90 923.39 1622.62 921.06 1621.30 918.75C1619.99 916.43 1618.65 914.14 1617.27 911.86C1615.90 909.58 1614.50 907.32 1613.07 905.07C1611.64 902.82 1610.18 900.59 1608.70 898.38C1607.21 896.17 1605.69 893.98 1604.15 891.80C1602.61 889.63 1601.04 887.47 1599.44 885.34C1597.84 883.20 1596.21 881.08 1594.56 878.98C1592.90 876.88 1591.22 874.80 1589.51 872.75C1587.80 870.69 1586.06 868.65 1584.30 866.63C1582.54 864.61 1580.74 862.61 1578.93 860.64C1577.11 858.66 1575.26 856.71 1573.39 854.78C1571.52 852.84 1569.62 850.93 1567.70 849.05C1565.77 847.16 1563.82 845.29 1561.84 843.45C1559.87 841.61 1557.86 839.80 1555.83 838.01C1553.80 836.23 1551.75 834.47 1549.67 832.75C1547.58 831.03 1545.48 829.34 1543.34 827.70C1541.21 826.05 1539.05 824.44 1536.87 822.88C1534.68 821.32 1532.47 819.80 1530.24 818.33C1528.00 816.86 1525.74 815.44 1523.45 814.08C1521.17 812.71 1518.86 811.40 1516.52 810.13C1514.19 808.86 1511.83 807.65 1509.46 806.47C1507.09 805.30 1504.69 804.17 1502.28 803.07C1499.87 801.97 1497.43 800.91 1494.99 799.89C1492.55 798.86 1490.09 797.86 1487.62 796.89C1485.15 795.92 1482.66 794.98 1480.17 794.05C1477.68 793.13 1475.18 792.23 1472.67 791.34C1470.16 790.45 1467.64 789.58 1465.12 788.72C1462.61 787.86 1460.08 787.01 1457.55 786.17C1455.02 785.33 1452.49 784.51 1449.95 783.69C1447.41 782.87 1444.87 782.07 1442.32 781.27C1439.78 780.47 1437.23 779.69 1434.67 778.91C1432.12 778.14 1429.56 777.37 1427.00 776.62C1424.43 775.87 1421.87 775.12 1419.30 774.39C1416.73 773.66 1414.15 772.93 1411.58 772.22C1409.00 771.51 1406.42 770.80 1403.84 770.11C1401.25 769.42 1398.67 768.73 1396.08 768.06C1393.49 767.38 1390.89 766.72 1388.30 766.06C1385.70 765.41 1383.10 764.76 1380.50 764.13C1377.90 763.49 1375.29 762.86 1372.69 762.25C1370.08 761.63 1367.47 761.02 1364.86 760.42C1362.25 759.82 1359.63 759.23 1357.02 758.65C1354.40 758.07 1351.78 757.49 1349.16 756.93C1346.54 756.37 1343.92 755.81 1341.29 755.26C1338.67 754.72 1336.04 754.18 1333.42 753.65C1330.79 753.12 1328.16 752.60 1325.53 752.08C1322.90 751.57 1320.26 751.06 1317.63 750.57C1315.00 750.07 1312.36 749.58 1309.73 749.10C1307.09 748.62 1304.45 748.14 1301.81 747.68C1299.18 747.21 1296.54 746.76 1293.90 746.30C1291.26 745.85 1288.62 745.41 1285.98 744.98C1283.34 744.54 1280.70 744.11 1278.05 743.69C1275.41 743.27 1272.77 742.86 1270.13 742.45C1267.49 742.04 1264.84 741.64 1262.20 741.25C1259.56 740.86 1256.91 740.47 1254.27 740.09C1251.63 739.71 1248.98 739.34 1246.34 738.97C1243.69 738.60 1241.05 738.24 1238.40 737.88C1235.76 737.53 1233.11 737.18 1230.47 736.83C1227.82 736.49 1225.18 736.15 1222.53 735.81C1219.88 735.48 1217.24 735.15 1214.59 734.83C1211.94 734.50 1209.30 734.18 1206.65 733.87C1204.00 733.55 1201.35 733.24 1198.70 732.94C1196.06 732.63 1193.41 732.33 1190.76 732.03C1188.11 731.73 1185.46 731.44 1182.81 731.15C1180.16 730.86 1177.51 730.57 1174.86 730.29C1172.21 730.01 1169.56 729.73 1166.91 729.45C1164.26 729.17 1161.60 728.90 1158.95 728.63C1156.30 728.36 1153.65 728.09 1151.00 727.82C1148.34 727.56 1145.69 727.29 1143.04 727.03C1140.38 726.77 1137.73 726.51 1135.07 726.25C1132.42 725.99 1129.77 725.74 1127.11 725.48C1124.46 725.23 1121.80 724.98 1119.15 724.73C1116.49 724.47 1113.83 724.22 1111.18 723.98C1108.52 723.73 1105.86 723.48 1103.21 723.23C1100.55 722.98 1097.89 722.74 1095.23 722.49C1092.58 722.24 1089.92 721.99 1087.26 721.75C1084.60 721.50 1081.94 721.26 1079.28 721.01C1076.62 720.76 1073.96 720.51 1071.30 720.27C1068.64 720.02 1065.98 719.77 1063.32 719.52C1060.66 719.27 1058.00 719.02 1055.34 718.77C1052.67 718.52 1050.01 718.27 1047.35 718.01C1044.69 717.76 1042.02 717.50 1039.36 717.25C1036.70 716.99 1034.03 716.73 1031.37 716.47C1028.70 716.21 1026.04 715.95 1023.37 715.68C1020.71 715.41 1018.04 715.15 1015.38 714.87C1012.71 714.60 1010.04 714.33 1007.38 714.05C1004.71 713.78 1002.04 713.50 999.37 713.22C996.71 712.93 994.04 712.65 991.37 712.36C988.70 712.07 986.03 711.77 983.36 711.48C980.69 711.18 978.02 710.88 975.35 710.57C972.68 710.27 970.01 709.96 967.34 709.64C964.67 709.33 962.00 709.01 959.32 708.69C956.65 708.36 953.98 708.04 951.31 707.70C948.64 707.36 945.96 707.03 943.30 706.66C940.64 706.28 937.98 705.90 935.36 705.45C932.73 705.00 930.11 704.52 927.54 703.96C924.96 703.40 922.40 702.78 919.89 702.07C917.39 701.35 914.91 700.57 912.49 699.66C910.07 698.75 907.69 697.75 905.38 696.61C903.08 695.46 900.82 694.21 898.63 692.80C896.45 691.38 894.33 689.84 892.30 688.12C890.26 686.40 888.30 684.49 886.43 682.47C884.56 680.45 882.76 678.25 881.06 676.02C879.35 673.79 877.72 671.42 876.19 669.06C874.65 666.71 873.20 664.29 871.83 661.90C870.45 659.51 869.18 657.11 867.96 654.72C866.74 652.32 865.61 649.93 864.52 647.52C863.43 645.12 862.41 642.71 861.43 640.29C860.44 637.87 859.52 635.45 858.61 633.00C857.71 630.56 856.85 628.11 856.00 625.64C855.15 623.17 854.33 620.69 853.52 618.18C852.70 615.68 851.90 613.16 851.10 610.62C850.31 608.08 849.52 605.52 848.74 602.96C847.96 600.39 847.19 597.81 846.43 595.23C845.67 592.64 844.91 590.04 844.16 587.44C843.42 584.84 842.68 582.24 841.94 579.63C841.21 577.03 840.49 574.42 839.77 571.82C839.05 569.22 838.33 566.61 837.63 564.02C836.92 561.43 836.22 558.84 835.53 556.26C834.83 553.69 834.14 551.12 833.46 548.57C832.77 546.01 832.10 543.48 831.42 540.95C830.73 538.42 830.06 535.91 829.34 533.39C828.63 530.87 827.91 528.36 827.12 525.83C826.34 523.30 825.53 520.77 824.64 518.20C823.74 515.64 822.81 513.05 821.77 510.46C820.74 507.86 819.64 505.18 818.42 502.64C817.19 500.11 815.89 497.54 814.44 495.23C812.98 492.91 811.43 490.66 809.70 488.75C807.97 486.83 806.12 485.07 804.07 483.74C802.03 482.41 799.79 481.38 797.44 480.75C795.09 480.13 792.50 479.91 789.97 479.99C787.45 480.07 784.82 480.54 782.30 481.24C779.78 481.94 777.29 483.00 774.84 484.17C772.39 485.35 769.99 486.80 767.60 488.27C765.21 489.74 762.86 491.40 760.52 492.99C758.18 494.57 755.86 496.23 753.55 497.78C751.24 499.32 748.94 500.81 746.64 502.24C744.34 503.68 742.06 505.05 739.77 506.39C737.48 507.73 735.20 509.01 732.91 510.27C730.62 511.53 728.33 512.74 726.04 513.94C723.74 515.14 721.44 516.31 719.13 517.47C716.82 518.63 714.50 519.77 712.17 520.91C709.84 522.05 707.49 523.17 705.13 524.32C702.77 525.46 700.39 526.60 697.99 527.75C695.59 528.91 693.17 530.08 690.74 531.24C688.30 532.40 685.85 533.56 683.38 534.71C680.91 535.85 678.42 536.99 675.92 538.10C673.42 539.20 670.91 540.30 668.38 541.34C665.86 542.39 663.31 543.41 660.76 544.37C658.21 545.34 655.65 546.26 653.08 547.12C650.51 547.98 647.92 548.79 645.33 549.53C642.74 550.26 640.14 550.93 637.54 551.51C634.94 552.10 632.32 552.61 629.71 553.02C627.09 553.43 624.47 553.76 621.85 553.98C619.22 554.21 616.60 554.33 613.96 554.39C611.33 554.44 608.70 554.41 606.06 554.33C603.43 554.25 600.79 554.09 598.15 553.92C595.51 553.74 592.86 553.50 590.22 553.26C587.58 553.02 584.93 552.75 582.29 552.47C579.64 552.20 576.99 551.91 574.34 551.61C571.70 551.30 569.05 550.99 566.40 550.66C563.75 550.33 561.10 549.99 558.46 549.64C555.81 549.28 553.16 548.92 550.51 548.53C547.86 548.15 545.22 547.76 542.57 547.35C539.93 546.95 537.28 546.52 534.64 546.09C531.99 545.66 529.35 545.21 526.71 544.75C524.07 544.29 521.43 543.81 518.80 543.32C516.16 542.83 513.53 542.33 510.89 541.82C508.26 541.30 505.63 540.77 503.01 540.23C500.38 539.68 497.76 539.13 495.14 538.56C492.52 537.98 489.90 537.40 487.29 536.80C484.67 536.20 482.06 535.59 479.46 534.96C476.85 534.33 474.25 533.69 471.65 533.03C469.06 532.38 466.46 531.70 463.88 531.02C461.29 530.33 458.70 529.63 456.13 528.92C453.55 528.21 450.98 527.48 448.41 526.73C445.84 525.99 443.28 525.23 440.72 524.46C438.17 523.69 435.62 522.90 433.07 522.10C430.53 521.30 427.99 520.48 425.45 519.65C422.92 518.83 420.39 517.99 417.87 517.13C415.34 516.28 412.82 515.41 410.30 514.54C407.79 513.66 405.27 512.77 402.77 511.87C400.26 510.97 397.75 510.06 395.25 509.14C392.75 508.22 390.25 507.29 387.76 506.35C385.26 505.42 382.77 504.47 380.28 503.51C377.79 502.55 375.30 501.59 372.82 500.61C370.33 499.64 367.85 498.66 365.37 497.67C362.88 496.69 360.41 495.69 357.93 494.69C355.45 493.69 352.97 492.68 350.49 491.67C348.02 490.66 345.54 489.64 343.07 488.61C340.59 487.59 338.12 486.56 335.65 485.53C333.17 484.50 330.70 483.46 328.22 482.43C325.75 481.39 322.04 479.82 320.80 479.30L320.4 479.8C320.45 481.05 320.45 484.86 320.44 487.42C320.44 489.98 320.42 492.56 320.40 495.15C320.39 497.74 320.37 500.35 320.35 502.97C320.33 505.58 320.31 508.22 320.30 510.86C320.29 513.50 320.27 516.15 320.27 518.81C320.26 521.47 320.26 524.14 320.27 526.81C320.28 529.49 320.30 532.17 320.33 534.86C320.36 537.55 320.40 540.24 320.46 542.94C320.52 545.63 320.59 548.34 320.68 551.04C320.78 553.74 320.88 556.45 321.01 559.15C321.14 561.85 321.29 564.56 321.46 567.26C321.64 569.96 321.83 572.67 322.05 575.36C322.28 578.06 322.53 580.76 322.80 583.44C323.08 586.13 323.39 588.82 323.73 591.50C324.07 594.17 324.44 596.84 324.85 599.51C325.26 602.17 325.70 604.82 326.18 607.46C326.67 610.11 327.18 612.74 327.74 615.36C328.30 617.98 328.90 620.59 329.55 623.19C330.19 625.78 330.88 628.36 331.62 630.93C332.35 633.49 333.13 636.05 333.97 638.58C334.80 641.11 335.68 643.63 336.61 646.13C337.54 648.62 338.53 651.10 339.56 653.56C340.59 656.01 341.67 658.44 342.80 660.85C343.93 663.26 345.11 665.64 346.34 668.00C347.56 670.35 348.84 672.68 350.16 674.98C351.48 677.28 352.85 679.55 354.27 681.78C355.69 684.02 357.15 686.22 358.66 688.39C360.18 690.55 361.73 692.69 363.33 694.78C364.94 696.87 366.59 698.93 368.28 700.95C369.97 702.96 371.71 704.94 373.49 706.87C375.28 708.80 377.10 710.69 378.97 712.53C380.85 714.37 382.76 716.17 384.72 717.91C386.68 719.66 388.68 721.36 390.72 723.01C392.76 724.65 394.85 726.25 396.98 727.79C399.11 729.34 401.28 730.82 403.48 732.27C405.69 733.71 407.93 735.10 410.21 736.45C412.48 737.80 414.79 739.10 417.13 740.36C419.47 741.63 421.85 742.84 424.24 744.02C426.64 745.21 429.06 746.34 431.50 747.45C433.95 748.56 436.42 749.63 438.90 750.67C441.39 751.71 443.90 752.72 446.41 753.70C448.93 754.68 451.47 755.63 454.02 756.56C456.56 757.49 459.12 758.39 461.69 759.27C464.25 760.15 466.83 761.01 469.41 761.85C471.98 762.69 474.57 763.51 477.15 764.32C479.73 765.13 482.32 765.92 484.90 766.70C487.48 767.47 490.07 768.24 492.66 768.98C495.24 769.73 497.83 770.46 500.42 771.18C503.01 771.90 505.60 772.60 508.19 773.28C510.78 773.97 513.37 774.64 515.96 775.30C518.56 775.96 521.15 776.60 523.75 777.22C526.34 777.85 528.94 778.46 531.54 779.06C534.14 779.65 536.74 780.24 539.34 780.80C541.94 781.37 544.54 781.92 547.15 782.46C549.75 782.99 552.36 783.51 554.97 784.02C557.58 784.53 560.19 785.02 562.80 785.49C565.41 785.97 568.03 786.43 570.64 786.88C573.26 787.32 575.88 787.75 578.50 788.17C581.12 788.59 583.74 788.99 586.36 789.38C588.99 789.76 591.62 790.13 594.24 790.49C596.87 790.85 599.50 791.19 602.14 791.51C604.77 791.84 607.41 792.15 610.04 792.45C612.68 792.75 615.32 793.03 617.97 793.30C620.61 793.56 623.26 793.81 625.90 794.05C628.55 794.29 631.20 794.51 633.86 794.72C636.51 794.93 639.17 795.12 641.82 795.30C644.48 795.49 647.14 795.66 649.80 795.81C652.47 795.97 655.13 796.12 657.80 796.26C660.46 796.40 663.13 796.53 665.80 796.65C668.47 796.77 671.14 796.89 673.81 797.00C676.48 797.10 679.15 797.21 681.82 797.30C684.50 797.40 687.17 797.49 689.84 797.58C692.52 797.67 695.19 797.76 697.87 797.85C700.54 797.93 703.21 798.01 705.89 798.10C708.56 798.18 711.24 798.27 713.91 798.35C716.59 798.44 719.26 798.52 721.93 798.61C724.60 798.70 727.28 798.80 729.95 798.90C732.62 798.99 735.29 799.10 737.96 799.20C740.63 799.31 743.29 799.43 745.96 799.55C748.63 799.67 751.29 799.80 753.95 799.94C756.62 800.08 759.28 800.23 761.94 800.38C764.60 800.54 767.26 800.70 769.91 800.87C772.57 801.04 775.23 801.22 777.88 801.41C780.54 801.60 783.19 801.80 785.84 802.02C788.49 802.23 791.14 802.45 793.79 802.68C796.44 802.91 799.09 803.15 801.74 803.40C804.38 803.66 807.03 803.92 809.67 804.20C812.32 804.47 814.96 804.76 817.60 805.06C820.25 805.36 822.89 805.68 825.53 806.00C828.16 806.33 830.80 806.67 833.44 807.02C836.08 807.37 838.71 807.74 841.35 808.12C843.98 808.49 846.62 808.89 849.25 809.29C851.88 809.69 854.52 810.10 857.15 810.51C859.78 810.93 862.41 811.35 865.04 811.77C867.68 812.19 870.31 812.62 872.94 813.05C875.57 813.47 878.20 813.90 880.83 814.32C883.47 814.74 886.10 815.16 888.73 815.58C891.36 815.99 894.00 816.41 896.63 816.82C899.26 817.23 901.90 817.64 904.53 818.05C907.16 818.46 909.80 818.86 912.43 819.27C915.07 819.67 917.70 820.07 920.34 820.46C922.97 820.86 925.61 821.25 928.25 821.64C930.88 822.03 933.52 822.42 936.16 822.81C938.80 823.19 941.43 823.57 944.07 823.95C946.71 824.33 949.35 824.70 951.99 825.07C954.63 825.44 957.27 825.81 959.91 826.18C962.55 826.54 965.20 826.90 967.84 827.26C970.48 827.61 973.12 827.97 975.77 828.32C978.41 828.67 981.06 829.01 983.70 829.35C986.35 829.70 988.99 830.03 991.64 830.37C994.29 830.70 996.94 831.03 999.58 831.36C1002.23 831.68 1004.88 832.00 1007.53 832.32C1010.18 832.64 1012.83 832.96 1015.48 833.27C1018.13 833.59 1020.79 833.90 1023.44 834.21C1026.09 834.52 1028.74 834.83 1031.39 835.14C1034.05 835.45 1036.70 835.75 1039.35 836.06C1042.00 836.37 1044.66 836.67 1047.31 836.98C1049.96 837.28 1052.62 837.59 1055.27 837.89C1057.92 838.20 1060.58 838.51 1063.23 838.81C1065.88 839.12 1068.53 839.43 1071.19 839.74C1073.84 840.05 1076.49 840.36 1079.14 840.68C1081.79 840.99 1084.44 841.31 1087.09 841.63C1089.74 841.95 1092.39 842.27 1095.04 842.60C1097.69 842.92 1100.34 843.25 1102.99 843.58C1105.64 843.92 1108.28 844.25 1110.93 844.60C1113.58 844.94 1116.22 845.28 1118.87 845.63C1121.51 845.99 1124.16 846.34 1126.80 846.70C1129.44 847.07 1132.08 847.43 1134.72 847.81C1137.36 848.18 1140.00 848.56 1142.64 848.95C1145.28 849.34 1147.91 849.73 1150.55 850.13C1153.18 850.54 1155.82 850.94 1158.45 851.36C1161.08 851.78 1163.71 852.20 1166.34 852.64C1168.97 853.07 1171.60 853.51 1174.22 853.96C1176.85 854.41 1179.47 854.87 1182.10 855.34C1184.72 855.81 1187.34 856.29 1189.96 856.78C1192.58 857.27 1195.19 857.77 1197.81 858.28C1200.42 858.80 1203.03 859.32 1205.64 859.85C1208.25 860.38 1210.86 860.93 1213.47 861.48C1216.07 862.04 1218.68 862.61 1221.28 863.19C1223.88 863.77 1226.48 864.36 1229.07 864.97C1231.67 865.58 1234.26 866.20 1236.85 866.83C1239.44 867.47 1242.03 868.11 1244.62 868.77C1247.20 869.44 1249.78 870.11 1252.36 870.80C1254.94 871.49 1257.51 872.20 1260.08 872.92C1262.65 873.65 1265.22 874.39 1267.78 875.14C1270.34 875.90 1272.89 876.67 1275.44 877.46C1277.99 878.26 1280.53 879.06 1283.07 879.89C1285.61 880.72 1288.14 881.57 1290.66 882.43C1293.18 883.30 1295.70 884.19 1298.20 885.09C1300.71 886.00 1303.21 886.93 1305.70 887.88C1308.19 888.82 1310.68 889.79 1313.15 890.79C1315.62 891.78 1318.09 892.79 1320.54 893.83C1322.99 894.87 1325.44 895.93 1327.87 897.01C1330.31 898.10 1332.73 899.20 1335.14 900.34C1337.55 901.47 1339.95 902.63 1342.34 903.81C1344.73 905.00 1347.11 906.20 1349.47 907.44C1351.83 908.68 1354.19 909.94 1356.52 911.23C1358.86 912.51 1361.19 913.83 1363.50 915.17C1365.81 916.51 1368.11 917.87 1370.39 919.26C1372.68 920.65 1374.95 922.07 1377.20 923.51C1379.46 924.95 1381.70 926.41 1383.92 927.90C1386.15 929.38 1388.36 930.90 1390.56 932.43C1392.75 933.96 1394.93 935.52 1397.10 937.10C1399.26 938.68 1401.41 940.28 1403.54 941.90C1405.67 943.53 1407.79 945.17 1409.89 946.84C1411.98 948.51 1414.07 950.20 1416.13 951.90C1418.19 953.61 1420.24 955.34 1422.27 957.09C1424.30 958.84 1426.31 960.61 1428.30 962.40C1430.30 964.19 1432.27 966.00 1434.23 967.83C1436.18 969.66 1438.12 971.51 1440.04 973.37C1441.95 975.24 1443.85 977.12 1445.73 979.02C1447.61 980.92 1449.47 982.84 1451.31 984.78C1453.15 986.72 1454.97 988.67 1456.76 990.64C1458.56 992.61 1460.34 994.60 1462.09 996.60C1463.85 998.61 1465.58 1000.63 1467.30 1002.66C1469.01 1004.69 1470.70 1006.74 1472.38 1008.81C1474.05 1010.88 1475.70 1012.96 1477.33 1015.05C1478.96 1017.14 1480.57 1019.25 1482.17 1021.38C1483.76 1023.50 1485.33 1025.64 1486.88 1027.79C1488.44 1029.94 1489.97 1032.10 1491.49 1034.28C1493.01 1036.46 1494.50 1038.65 1495.98 1040.85C1497.46 1043.05 1498.93 1045.27 1500.37 1047.49C1501.82 1049.72 1503.24 1051.96 1504.66 1054.21C1506.07 1056.46 1507.46 1058.72 1508.84 1060.99C1510.22 1063.26 1511.58 1065.54 1512.92 1067.84C1514.27 1070.13 1515.60 1072.43 1516.92 1074.75C1518.23 1077.06 1519.53 1079.38 1520.82 1081.72C1522.10 1084.05 1523.37 1086.39 1524.63 1088.74C1525.89 1091.09 1527.13 1093.45 1528.36 1095.82C1529.59 1098.19 1530.80 1100.56 1532.00 1102.95C1533.21 1105.33 1534.40 1107.72 1535.57 1110.12C1536.75 1112.52 1537.92 1114.92 1539.07 1117.34C1540.22 1119.75 1541.36 1122.17 1542.49 1124.59C1543.62 1127.02 1544.74 1129.45 1545.84 1131.89C1546.95 1134.32 1548.05 1136.77 1549.13 1139.22C1550.22 1141.66 1551.29 1144.12 1552.36 1146.58C1553.43 1149.03 1554.48 1151.50 1555.53 1153.96C1556.57 1156.43 1557.61 1158.90 1558.64 1161.38C1559.67 1163.85 1560.69 1166.33 1561.70 1168.81C1562.71 1171.29 1563.71 1173.78 1564.71 1176.26C1565.71 1178.75 1566.69 1181.24 1567.67 1183.73C1568.66 1186.22 1569.63 1188.72 1570.60 1191.21C1571.56 1193.71 1572.52 1196.20 1573.48 1198.70C1574.43 1201.20 1575.38 1203.70 1576.32 1206.20C1577.27 1208.70 1578.20 1211.20 1579.13 1213.70C1580.06 1216.20 1580.99 1218.71 1581.91 1221.21C1582.83 1223.71 1583.74 1226.22 1584.65 1228.72C1585.56 1231.23 1586.46 1233.74 1587.35 1236.25C1588.25 1238.75 1589.14 1241.26 1590.02 1243.78C1590.91 1246.29 1591.79 1248.80 1592.66 1251.31C1593.53 1253.83 1594.40 1256.34 1595.26 1258.86C1596.12 1261.38 1596.98 1263.89 1597.83 1266.41C1598.68 1268.93 1599.53 1271.45 1600.37 1273.98C1601.21 1276.50 1602.04 1279.02 1602.87 1281.55C1603.70 1284.08 1604.52 1286.60 1605.34 1289.13C1606.15 1291.66 1606.97 1294.19 1607.77 1296.73C1608.58 1299.26 1609.38 1301.80 1610.18 1304.33C1610.97 1306.87 1611.76 1309.41 1612.55 1311.95C1613.33 1314.49 1614.11 1317.03 1614.89 1319.57C1615.66 1322.12 1616.43 1324.67 1617.19 1327.21C1617.96 1329.76 1618.71 1332.31 1619.47 1334.87C1620.22 1337.42 1620.97 1339.97 1621.71 1342.53C1622.45 1345.09 1623.19 1347.65 1623.92 1350.21C1624.66 1352.77 1625.38 1355.33 1626.10 1357.90C1626.83 1360.47 1627.54 1363.04 1628.25 1365.61C1628.97 1368.18 1629.67 1370.75 1630.37 1373.33C1631.08 1375.90 1631.77 1378.48 1632.46 1381.06C1633.16 1383.64 1633.84 1386.23 1634.52 1388.81C1635.21 1391.40 1635.88 1393.99 1636.55 1396.58C1637.22 1399.17 1637.89 1401.77 1638.55 1404.36C1639.22 1406.96 1639.87 1409.56 1640.52 1412.16C1641.18 1414.77 1642.14 1418.68 1642.47 1419.98"/></g>
<g><rect x="1644.5" y="24" width="434" height="300" fill="#fff" stroke="#000" stroke-width="3.5" shape-rendering="crispEdges"/><rect x="1651" y="60" width="139" height="4" fill="#000000" shape-rendering="crispEdges"/><text class="leg" transform="translate(1806 82.5) scale(0.99 1.04)">pH = 4</text><rect x="1651" y="135" width="139" height="5" fill="#ff0000" shape-rendering="crispEdges"/><text class="leg" transform="translate(1806 158) scale(0.99 1.04)">pH = 7</text><rect x="1651" y="211" width="139" height="5" fill="#0000ff" shape-rendering="crispEdges"/><text class="leg" transform="translate(1806 233.7) scale(0.99 1.04)">pH = 10</text><rect x="1651" y="287" width="139" height="4" fill="#008080" shape-rendering="crispEdges"/><text class="leg" transform="translate(1806 308.7) scale(0.99 1.04)">pH = 12.5</text></g>
</svg></body></html>
